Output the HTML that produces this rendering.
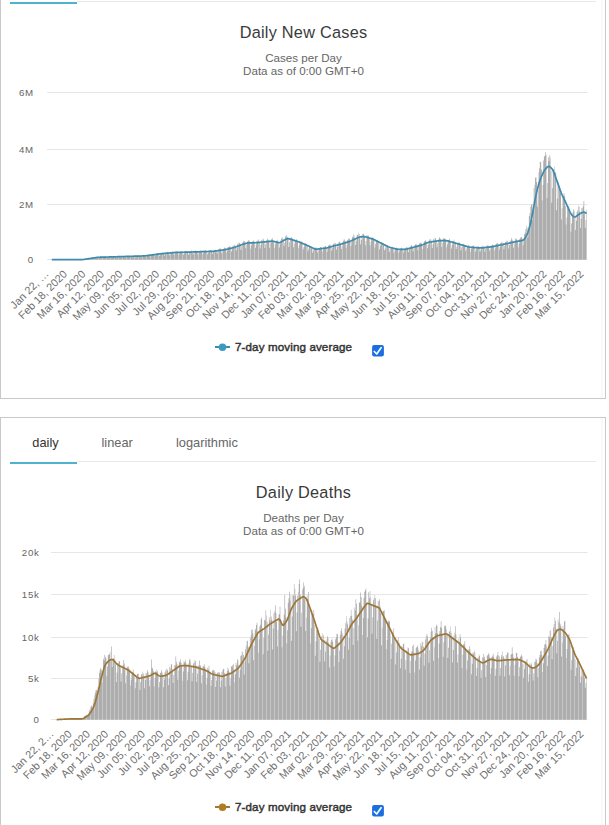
<!DOCTYPE html>
<html><head><meta charset="utf-8"><style>
html,body{margin:0;padding:0;background:#fff;width:609px;height:825px;overflow:hidden;position:relative}
text{font-family:"Liberation Sans",sans-serif}
</style></head><body>
<svg width="609" height="825" viewBox="0 0 609 825" style="position:absolute;left:0;top:0" font-family="Liberation Sans, sans-serif">
<defs><pattern id="stripes" x="0" y="0" width="4" height="20" patternUnits="userSpaceOnUse"><rect width="4" height="20" fill="#adadad"/><rect x="2" width="1" height="20" fill="#c6c6c6"/></pattern></defs>
<rect width="609" height="825" fill="#fff"/>
<rect x="0.5" y="-42.5" width="605" height="441.0" fill="#fff" stroke="#c9c9c9" stroke-width="1"/>
<rect x="0.5" y="417.5" width="605" height="483.0" fill="#fff" stroke="#c9c9c9" stroke-width="1"/>
<rect x="601" y="-43" width="2" height="441" fill="#f9f9f9"/>
<rect x="601" y="418" width="2" height="420" fill="#f9f9f9"/>
<rect x="77" y="1" width="519" height="1" fill="#e8e8e8"/>
<rect x="10" y="2" width="67" height="2" fill="#4fb3cf"/>
<text x="303.50" y="37.60" font-size="16.30" fill="#3a3a3a" text-anchor="middle" font-weight="normal" letter-spacing="0.25">Daily New Cases</text>
<text x="303.50" y="62.30" font-size="11.60" fill="#666" text-anchor="middle" font-weight="normal" >Cases per Day</text>
<text x="303.50" y="74.50" font-size="11.60" fill="#666" text-anchor="middle" font-weight="normal" >Data as of 0:00 GMT+0</text>
<rect x="47.0" y="92.0" width="540.5" height="1" fill="#e6e6e6"/>
<text x="33.80" y="95.60" font-size="9.70" fill="#666" text-anchor="end" font-weight="normal" letter-spacing="0.7">6M</text>
<rect x="47.0" y="149.0" width="540.5" height="1" fill="#e6e6e6"/>
<text x="33.80" y="152.60" font-size="9.70" fill="#666" text-anchor="end" font-weight="normal" letter-spacing="0.7">4M</text>
<rect x="47.0" y="204.0" width="540.5" height="1" fill="#e6e6e6"/>
<text x="33.80" y="207.60" font-size="9.70" fill="#666" text-anchor="end" font-weight="normal" letter-spacing="0.7">2M</text>
<rect x="47.0" y="259.0" width="540.5" height="1" fill="#e6e6e6"/>
<text x="33.80" y="262.60" font-size="9.70" fill="#666" text-anchor="end" font-weight="normal" letter-spacing="0.7">0</text>
<path d="M80.83 259.47h0.68V259.80h-0.68zM81.51 259.38h0.68V259.80h-0.68zM82.19 259.31h0.68V259.80h-0.68zM82.88 259.42h0.68V259.80h-0.68zM83.56 259.21h0.68V259.80h-0.68zM84.24 258.97h0.68V259.80h-0.68zM84.93 258.81h0.68V259.80h-0.68zM85.61 258.60h0.68V259.80h-0.68zM86.29 258.52h0.68V259.80h-0.68zM86.98 258.52h0.68V259.80h-0.68zM87.66 258.89h0.68V259.80h-0.68zM88.34 258.53h0.68V259.80h-0.68zM89.02 258.16h0.68V259.80h-0.68zM89.71 257.96h0.68V259.80h-0.68zM90.39 257.84h0.68V259.80h-0.68zM91.07 257.73h0.68V259.80h-0.68zM91.76 257.85h0.68V259.80h-0.68zM92.44 258.39h0.68V259.80h-0.68zM93.12 257.88h0.68V259.80h-0.68zM93.81 257.32h0.68V259.80h-0.68zM94.49 257.09h0.68V259.80h-0.68zM95.17 256.99h0.68V259.80h-0.68zM95.85 256.98h0.68V259.80h-0.68zM96.54 257.19h0.68V259.80h-0.68zM97.22 258.14h0.68V259.80h-0.68zM97.90 257.57h0.68V259.80h-0.68zM98.59 256.87h0.68V259.80h-0.68zM99.27 256.98h0.68V259.80h-0.68zM99.95 256.69h0.68V259.80h-0.68zM100.64 256.83h0.68V259.80h-0.68zM101.32 256.96h0.68V259.80h-0.68zM102.00 257.99h0.68V259.80h-0.68zM102.68 257.44h0.68V259.80h-0.68zM103.37 256.79h0.68V259.80h-0.68zM104.05 256.76h0.68V259.80h-0.68zM104.73 256.67h0.68V259.80h-0.68zM105.42 256.57h0.68V259.80h-0.68zM106.10 256.99h0.68V259.80h-0.68zM106.78 257.90h0.68V259.80h-0.68zM107.47 257.32h0.68V259.80h-0.68zM108.15 256.73h0.68V259.80h-0.68zM108.83 256.61h0.68V259.80h-0.68zM109.51 256.34h0.68V259.80h-0.68zM110.20 256.50h0.68V259.80h-0.68zM110.88 256.82h0.68V259.80h-0.68zM111.56 257.93h0.68V259.80h-0.68zM112.25 257.28h0.68V259.80h-0.68zM112.93 256.56h0.68V259.80h-0.68zM113.61 256.50h0.68V259.80h-0.68zM114.30 256.32h0.68V259.80h-0.68zM114.98 256.32h0.68V259.80h-0.68zM115.66 256.66h0.68V259.80h-0.68zM116.34 257.73h0.68V259.80h-0.68zM117.03 257.07h0.68V259.80h-0.68zM117.71 256.43h0.68V259.80h-0.68zM118.39 256.33h0.68V259.80h-0.68zM119.08 255.93h0.68V259.80h-0.68zM119.76 256.12h0.68V259.80h-0.68zM120.44 256.56h0.68V259.80h-0.68zM121.13 257.63h0.68V259.80h-0.68zM121.81 256.95h0.68V259.80h-0.68zM122.49 256.13h0.68V259.80h-0.68zM123.17 256.14h0.68V259.80h-0.68zM123.86 255.97h0.68V259.80h-0.68zM124.54 256.08h0.68V259.80h-0.68zM125.22 256.29h0.68V259.80h-0.68zM125.91 257.52h0.68V259.80h-0.68zM126.59 256.90h0.68V259.80h-0.68zM127.27 256.08h0.68V259.80h-0.68zM127.96 256.03h0.68V259.80h-0.68zM128.64 255.71h0.68V259.80h-0.68zM129.32 255.92h0.68V259.80h-0.68zM130.01 256.15h0.68V259.80h-0.68zM130.69 257.40h0.68V259.80h-0.68zM131.37 256.72h0.68V259.80h-0.68zM132.05 255.97h0.68V259.80h-0.68zM132.74 255.74h0.68V259.80h-0.68zM133.42 255.66h0.68V259.80h-0.68zM134.10 255.68h0.68V259.80h-0.68zM134.79 256.10h0.68V259.80h-0.68zM135.47 257.44h0.68V259.80h-0.68zM136.15 256.61h0.68V259.80h-0.68zM136.84 255.73h0.68V259.80h-0.68zM137.52 255.70h0.68V259.80h-0.68zM138.20 255.42h0.68V259.80h-0.68zM138.88 255.61h0.68V259.80h-0.68zM139.57 255.96h0.68V259.80h-0.68zM140.25 257.27h0.68V259.80h-0.68zM140.93 256.38h0.68V259.80h-0.68zM141.62 255.53h0.68V259.80h-0.68zM142.30 255.55h0.68V259.80h-0.68zM142.98 255.16h0.68V259.80h-0.68zM143.67 255.31h0.68V259.80h-0.68zM144.35 255.60h0.68V259.80h-0.68zM145.03 256.95h0.68V259.80h-0.68zM145.71 256.14h0.68V259.80h-0.68zM146.40 255.18h0.68V259.80h-0.68zM147.08 254.95h0.68V259.80h-0.68zM147.76 254.48h0.68V259.80h-0.68zM148.45 254.54h0.68V259.80h-0.68zM149.13 254.78h0.68V259.80h-0.68zM149.81 256.61h0.68V259.80h-0.68zM150.50 255.49h0.68V259.80h-0.68zM151.18 254.27h0.68V259.80h-0.68zM151.86 254.17h0.68V259.80h-0.68zM152.54 253.64h0.68V259.80h-0.68zM153.23 253.77h0.68V259.80h-0.68zM153.91 254.34h0.68V259.80h-0.68zM154.59 256.06h0.68V259.80h-0.68zM155.28 255.12h0.68V259.80h-0.68zM155.96 253.61h0.68V259.80h-0.68zM156.64 253.45h0.68V259.80h-0.68zM157.33 252.94h0.68V259.80h-0.68zM158.01 253.21h0.68V259.80h-0.68zM158.69 253.60h0.68V259.80h-0.68zM159.37 255.74h0.68V259.80h-0.68zM160.06 254.39h0.68V259.80h-0.68zM160.74 253.12h0.68V259.80h-0.68zM161.42 252.86h0.68V259.80h-0.68zM162.11 252.46h0.68V259.80h-0.68zM162.79 252.77h0.68V259.80h-0.68zM163.47 252.78h0.68V259.80h-0.68zM164.16 255.45h0.68V259.80h-0.68zM164.84 254.30h0.68V259.80h-0.68zM165.52 252.35h0.68V259.80h-0.68zM166.20 252.57h0.68V259.80h-0.68zM166.89 251.87h0.68V259.80h-0.68zM167.57 251.98h0.68V259.80h-0.68zM168.25 252.80h0.68V259.80h-0.68zM168.94 255.20h0.68V259.80h-0.68zM169.62 253.83h0.68V259.80h-0.68zM170.30 252.12h0.68V259.80h-0.68zM170.99 252.20h0.68V259.80h-0.68zM171.67 251.65h0.68V259.80h-0.68zM172.35 251.66h0.68V259.80h-0.68zM173.03 252.13h0.68V259.80h-0.68zM173.72 254.84h0.68V259.80h-0.68zM174.40 253.24h0.68V259.80h-0.68zM175.08 251.63h0.68V259.80h-0.68zM175.77 251.72h0.68V259.80h-0.68zM176.45 251.19h0.68V259.80h-0.68zM177.13 251.76h0.68V259.80h-0.68zM177.82 252.27h0.68V259.80h-0.68zM178.50 254.91h0.68V259.80h-0.68zM179.18 253.32h0.68V259.80h-0.68zM179.87 251.52h0.68V259.80h-0.68zM180.55 251.61h0.68V259.80h-0.68zM181.23 251.15h0.68V259.80h-0.68zM181.91 251.57h0.68V259.80h-0.68zM182.60 252.03h0.68V259.80h-0.68zM183.28 254.72h0.68V259.80h-0.68zM183.96 253.21h0.68V259.80h-0.68zM184.65 251.64h0.68V259.80h-0.68zM185.33 251.07h0.68V259.80h-0.68zM186.01 250.71h0.68V259.80h-0.68zM186.70 251.19h0.68V259.80h-0.68zM187.38 251.98h0.68V259.80h-0.68zM188.06 254.70h0.68V259.80h-0.68zM188.74 253.14h0.68V259.80h-0.68zM189.43 251.37h0.68V259.80h-0.68zM190.11 251.16h0.68V259.80h-0.68zM190.79 250.61h0.68V259.80h-0.68zM191.48 250.77h0.68V259.80h-0.68zM192.16 251.56h0.68V259.80h-0.68zM192.84 254.57h0.68V259.80h-0.68zM193.53 252.97h0.68V259.80h-0.68zM194.21 251.26h0.68V259.80h-0.68zM194.89 251.18h0.68V259.80h-0.68zM195.57 250.22h0.68V259.80h-0.68zM196.26 250.92h0.68V259.80h-0.68zM196.94 251.25h0.68V259.80h-0.68zM197.62 254.49h0.68V259.80h-0.68zM198.31 252.86h0.68V259.80h-0.68zM198.99 250.84h0.68V259.80h-0.68zM199.67 250.90h0.68V259.80h-0.68zM200.36 250.32h0.68V259.80h-0.68zM201.04 250.71h0.68V259.80h-0.68zM201.72 251.50h0.68V259.80h-0.68zM202.40 254.37h0.68V259.80h-0.68zM203.09 252.85h0.68V259.80h-0.68zM203.77 250.57h0.68V259.80h-0.68zM204.45 250.77h0.68V259.80h-0.68zM205.14 249.88h0.68V259.80h-0.68zM205.82 250.99h0.68V259.80h-0.68zM206.50 251.26h0.68V259.80h-0.68zM207.19 254.19h0.68V259.80h-0.68zM207.87 252.67h0.68V259.80h-0.68zM208.55 250.49h0.68V259.80h-0.68zM209.23 250.45h0.68V259.80h-0.68zM209.92 250.09h0.68V259.80h-0.68zM210.60 250.22h0.68V259.80h-0.68zM211.28 250.58h0.68V259.80h-0.68zM211.97 254.07h0.68V259.80h-0.68zM212.65 252.33h0.68V259.80h-0.68zM213.33 250.38h0.68V259.80h-0.68zM214.02 250.05h0.68V259.80h-0.68zM214.70 249.70h0.68V259.80h-0.68zM215.38 249.68h0.68V259.80h-0.68zM216.06 249.94h0.68V259.80h-0.68zM216.75 253.51h0.68V259.80h-0.68zM217.43 251.67h0.68V259.80h-0.68zM218.11 249.30h0.68V259.80h-0.68zM218.80 248.91h0.68V259.80h-0.68zM219.48 248.48h0.68V259.80h-0.68zM220.16 248.39h0.68V259.80h-0.68zM220.85 249.47h0.68V259.80h-0.68zM221.53 253.15h0.68V259.80h-0.68zM222.21 250.87h0.68V259.80h-0.68zM222.90 249.26h0.68V259.80h-0.68zM223.58 248.59h0.68V259.80h-0.68zM224.26 247.61h0.68V259.80h-0.68zM224.94 248.09h0.68V259.80h-0.68zM225.63 248.77h0.68V259.80h-0.68zM226.31 252.61h0.68V259.80h-0.68zM226.99 250.40h0.68V259.80h-0.68zM227.68 246.91h0.68V259.80h-0.68zM228.36 247.10h0.68V259.80h-0.68zM229.04 246.41h0.68V259.80h-0.68zM229.73 246.28h0.68V259.80h-0.68zM230.41 247.65h0.68V259.80h-0.68zM231.09 251.61h0.68V259.80h-0.68zM231.77 249.17h0.68V259.80h-0.68zM232.46 245.73h0.68V259.80h-0.68zM233.14 246.14h0.68V259.80h-0.68zM233.82 244.45h0.68V259.80h-0.68zM234.51 244.83h0.68V259.80h-0.68zM235.19 246.20h0.68V259.80h-0.68zM235.87 250.41h0.68V259.80h-0.68zM236.56 247.94h0.68V259.80h-0.68zM237.24 243.74h0.68V259.80h-0.68zM237.92 243.64h0.68V259.80h-0.68zM238.60 242.42h0.68V259.80h-0.68zM239.29 242.91h0.68V259.80h-0.68zM239.97 243.86h0.68V259.80h-0.68zM240.65 249.88h0.68V259.80h-0.68zM241.34 246.30h0.68V259.80h-0.68zM242.02 242.71h0.68V259.80h-0.68zM242.70 241.95h0.68V259.80h-0.68zM243.39 240.86h0.68V259.80h-0.68zM244.07 241.01h0.68V259.80h-0.68zM244.75 243.01h0.68V259.80h-0.68zM245.43 248.28h0.68V259.80h-0.68zM246.12 244.77h0.68V259.80h-0.68zM246.80 241.66h0.68V259.80h-0.68zM247.48 241.36h0.68V259.80h-0.68zM248.17 240.20h0.68V259.80h-0.68zM248.85 240.41h0.68V259.80h-0.68zM249.53 241.82h0.68V259.80h-0.68zM250.22 248.82h0.68V259.80h-0.68zM250.90 245.45h0.68V259.80h-0.68zM251.58 241.76h0.68V259.80h-0.68zM252.26 241.55h0.68V259.80h-0.68zM252.95 240.73h0.68V259.80h-0.68zM253.63 240.51h0.68V259.80h-0.68zM254.31 242.65h0.68V259.80h-0.68zM255.00 248.04h0.68V259.80h-0.68zM255.68 244.75h0.68V259.80h-0.68zM256.36 241.40h0.68V259.80h-0.68zM257.05 241.13h0.68V259.80h-0.68zM257.73 239.86h0.68V259.80h-0.68zM258.41 239.62h0.68V259.80h-0.68zM259.09 242.09h0.68V259.80h-0.68zM259.78 248.42h0.68V259.80h-0.68zM260.46 244.64h0.68V259.80h-0.68zM261.14 240.37h0.68V259.80h-0.68zM261.83 240.48h0.68V259.80h-0.68zM262.51 238.40h0.68V259.80h-0.68zM263.19 239.55h0.68V259.80h-0.68zM263.88 241.14h0.68V259.80h-0.68zM264.56 247.97h0.68V259.80h-0.68zM265.24 244.24h0.68V259.80h-0.68zM265.92 240.07h0.68V259.80h-0.68zM266.61 240.62h0.68V259.80h-0.68zM267.29 238.41h0.68V259.80h-0.68zM267.97 239.86h0.68V259.80h-0.68zM268.66 240.84h0.68V259.80h-0.68zM269.34 247.83h0.68V259.80h-0.68zM270.02 243.25h0.68V259.80h-0.68zM270.71 239.59h0.68V259.80h-0.68zM271.39 239.29h0.68V259.80h-0.68zM272.07 238.35h0.68V259.80h-0.68zM272.76 240.15h0.68V259.80h-0.68zM273.44 242.38h0.68V259.80h-0.68zM274.12 248.17h0.68V259.80h-0.68zM274.80 244.61h0.68V259.80h-0.68zM275.49 241.07h0.68V259.80h-0.68zM276.17 240.75h0.68V259.80h-0.68zM276.85 239.68h0.68V259.80h-0.68zM277.54 241.07h0.68V259.80h-0.68zM278.22 241.75h0.68V259.80h-0.68zM278.90 247.45h0.68V259.80h-0.68zM279.59 244.33h0.68V259.80h-0.68zM280.27 240.39h0.68V259.80h-0.68zM280.95 239.01h0.68V259.80h-0.68zM281.63 237.52h0.68V259.80h-0.68zM282.32 237.39h0.68V259.80h-0.68zM283.00 239.45h0.68V259.80h-0.68zM283.68 246.09h0.68V259.80h-0.68zM284.37 242.67h0.68V259.80h-0.68zM285.05 236.47h0.68V259.80h-0.68zM285.73 235.83h0.68V259.80h-0.68zM286.42 234.79h0.68V259.80h-0.68zM287.10 237.10h0.68V259.80h-0.68zM287.78 238.47h0.68V259.80h-0.68zM288.46 247.01h0.68V259.80h-0.68zM289.15 242.35h0.68V259.80h-0.68zM289.83 238.09h0.68V259.80h-0.68zM290.51 238.49h0.68V259.80h-0.68zM291.20 236.96h0.68V259.80h-0.68zM291.88 238.00h0.68V259.80h-0.68zM292.56 239.77h0.68V259.80h-0.68zM293.25 247.16h0.68V259.80h-0.68zM293.93 243.66h0.68V259.80h-0.68zM294.61 240.48h0.68V259.80h-0.68zM295.29 240.21h0.68V259.80h-0.68zM295.98 239.14h0.68V259.80h-0.68zM296.66 239.77h0.68V259.80h-0.68zM297.34 241.88h0.68V259.80h-0.68zM298.03 248.02h0.68V259.80h-0.68zM298.71 245.54h0.68V259.80h-0.68zM299.39 241.81h0.68V259.80h-0.68zM300.08 241.73h0.68V259.80h-0.68zM300.76 241.24h0.68V259.80h-0.68zM301.44 241.87h0.68V259.80h-0.68zM302.12 244.03h0.68V259.80h-0.68zM302.81 249.36h0.68V259.80h-0.68zM303.49 247.04h0.68V259.80h-0.68zM304.17 243.52h0.68V259.80h-0.68zM304.86 244.06h0.68V259.80h-0.68zM305.54 243.07h0.68V259.80h-0.68zM306.22 244.85h0.68V259.80h-0.68zM306.91 245.92h0.68V259.80h-0.68zM307.59 251.18h0.68V259.80h-0.68zM308.27 248.82h0.68V259.80h-0.68zM308.95 245.98h0.68V259.80h-0.68zM309.64 246.81h0.68V259.80h-0.68zM310.32 246.51h0.68V259.80h-0.68zM311.00 247.19h0.68V259.80h-0.68zM311.69 248.30h0.68V259.80h-0.68zM312.37 252.83h0.68V259.80h-0.68zM313.05 250.61h0.68V259.80h-0.68zM313.74 248.56h0.68V259.80h-0.68zM314.42 248.38h0.68V259.80h-0.68zM315.10 247.49h0.68V259.80h-0.68zM315.78 247.61h0.68V259.80h-0.68zM316.47 248.80h0.68V259.80h-0.68zM317.15 252.60h0.68V259.80h-0.68zM317.83 250.36h0.68V259.80h-0.68zM318.52 247.82h0.68V259.80h-0.68zM319.20 248.19h0.68V259.80h-0.68zM319.88 246.89h0.68V259.80h-0.68zM320.57 247.07h0.68V259.80h-0.68zM321.25 247.85h0.68V259.80h-0.68zM321.93 251.85h0.68V259.80h-0.68zM322.62 249.76h0.68V259.80h-0.68zM323.30 247.14h0.68V259.80h-0.68zM323.98 247.17h0.68V259.80h-0.68zM324.66 246.05h0.68V259.80h-0.68zM325.35 246.10h0.68V259.80h-0.68zM326.03 246.95h0.68V259.80h-0.68zM326.71 251.68h0.68V259.80h-0.68zM327.40 248.92h0.68V259.80h-0.68zM328.08 245.63h0.68V259.80h-0.68zM328.76 244.95h0.68V259.80h-0.68zM329.45 244.38h0.68V259.80h-0.68zM330.13 244.86h0.68V259.80h-0.68zM330.81 245.97h0.68V259.80h-0.68zM331.49 250.64h0.68V259.80h-0.68zM332.18 247.89h0.68V259.80h-0.68zM332.86 244.06h0.68V259.80h-0.68zM333.54 243.63h0.68V259.80h-0.68zM334.23 242.69h0.68V259.80h-0.68zM334.91 242.90h0.68V259.80h-0.68zM335.59 244.70h0.68V259.80h-0.68zM336.28 249.75h0.68V259.80h-0.68zM336.96 246.91h0.68V259.80h-0.68zM337.64 243.15h0.68V259.80h-0.68zM338.32 242.36h0.68V259.80h-0.68zM339.01 241.62h0.68V259.80h-0.68zM339.69 242.60h0.68V259.80h-0.68zM340.37 243.33h0.68V259.80h-0.68zM341.06 249.08h0.68V259.80h-0.68zM341.74 246.02h0.68V259.80h-0.68zM342.42 241.87h0.68V259.80h-0.68zM343.11 240.79h0.68V259.80h-0.68zM343.79 239.21h0.68V259.80h-0.68zM344.47 240.45h0.68V259.80h-0.68zM345.15 241.35h0.68V259.80h-0.68zM345.84 247.65h0.68V259.80h-0.68zM346.52 244.67h0.68V259.80h-0.68zM347.20 239.94h0.68V259.80h-0.68zM347.89 239.43h0.68V259.80h-0.68zM348.57 237.88h0.68V259.80h-0.68zM349.25 238.98h0.68V259.80h-0.68zM349.94 239.96h0.68V259.80h-0.68zM350.62 246.36h0.68V259.80h-0.68zM351.30 242.12h0.68V259.80h-0.68zM351.98 236.81h0.68V259.80h-0.68zM352.67 237.19h0.68V259.80h-0.68zM353.35 234.52h0.68V259.80h-0.68zM354.03 235.52h0.68V259.80h-0.68zM354.72 238.17h0.68V259.80h-0.68zM355.40 244.96h0.68V259.80h-0.68zM356.08 240.83h0.68V259.80h-0.68zM356.77 235.06h0.68V259.80h-0.68zM357.45 234.87h0.68V259.80h-0.68zM358.13 232.67h0.68V259.80h-0.68zM358.81 233.92h0.68V259.80h-0.68zM359.50 236.35h0.68V259.80h-0.68zM360.18 244.18h0.68V259.80h-0.68zM360.86 239.92h0.68V259.80h-0.68zM361.55 234.94h0.68V259.80h-0.68zM362.23 233.86h0.68V259.80h-0.68zM362.91 233.48h0.68V259.80h-0.68zM363.60 234.60h0.68V259.80h-0.68zM364.28 236.91h0.68V259.80h-0.68zM364.96 245.37h0.68V259.80h-0.68zM365.64 241.01h0.68V259.80h-0.68zM366.33 235.07h0.68V259.80h-0.68zM367.01 236.35h0.68V259.80h-0.68zM367.69 234.83h0.68V259.80h-0.68zM368.38 236.37h0.68V259.80h-0.68zM369.06 238.37h0.68V259.80h-0.68zM369.74 245.45h0.68V259.80h-0.68zM370.43 241.74h0.68V259.80h-0.68zM371.11 237.92h0.68V259.80h-0.68zM371.79 237.76h0.68V259.80h-0.68zM372.48 237.33h0.68V259.80h-0.68zM373.16 238.38h0.68V259.80h-0.68zM373.84 240.62h0.68V259.80h-0.68zM374.52 247.58h0.68V259.80h-0.68zM375.21 243.95h0.68V259.80h-0.68zM375.89 239.99h0.68V259.80h-0.68zM376.57 240.19h0.68V259.80h-0.68zM377.26 239.78h0.68V259.80h-0.68zM377.94 241.24h0.68V259.80h-0.68zM378.62 242.73h0.68V259.80h-0.68zM379.31 249.14h0.68V259.80h-0.68zM379.99 245.85h0.68V259.80h-0.68zM380.67 242.61h0.68V259.80h-0.68zM381.35 242.73h0.68V259.80h-0.68zM382.04 242.57h0.68V259.80h-0.68zM382.72 243.97h0.68V259.80h-0.68zM383.40 244.84h0.68V259.80h-0.68zM384.09 250.28h0.68V259.80h-0.68zM384.77 248.46h0.68V259.80h-0.68zM385.45 245.32h0.68V259.80h-0.68zM386.14 245.21h0.68V259.80h-0.68zM386.82 245.41h0.68V259.80h-0.68zM387.50 245.33h0.68V259.80h-0.68zM388.18 247.31h0.68V259.80h-0.68zM388.87 251.94h0.68V259.80h-0.68zM389.55 249.31h0.68V259.80h-0.68zM390.23 246.99h0.68V259.80h-0.68zM390.92 247.28h0.68V259.80h-0.68zM391.60 246.39h0.68V259.80h-0.68zM392.28 247.72h0.68V259.80h-0.68zM392.97 248.07h0.68V259.80h-0.68zM393.65 252.69h0.68V259.80h-0.68zM394.33 250.57h0.68V259.80h-0.68zM395.01 248.40h0.68V259.80h-0.68zM395.70 248.15h0.68V259.80h-0.68zM396.38 247.44h0.68V259.80h-0.68zM397.06 248.23h0.68V259.80h-0.68zM397.75 248.88h0.68V259.80h-0.68zM398.43 252.87h0.68V259.80h-0.68zM399.11 250.94h0.68V259.80h-0.68zM399.80 248.47h0.68V259.80h-0.68zM400.48 248.52h0.68V259.80h-0.68zM401.16 247.85h0.68V259.80h-0.68zM401.84 247.81h0.68V259.80h-0.68zM402.53 249.06h0.68V259.80h-0.68zM403.21 252.62h0.68V259.80h-0.68zM403.89 250.58h0.68V259.80h-0.68zM404.58 248.30h0.68V259.80h-0.68zM405.26 248.20h0.68V259.80h-0.68zM405.94 247.06h0.68V259.80h-0.68zM406.63 247.02h0.68V259.80h-0.68zM407.31 248.00h0.68V259.80h-0.68zM407.99 252.16h0.68V259.80h-0.68zM408.67 249.43h0.68V259.80h-0.68zM409.36 247.19h0.68V259.80h-0.68zM410.04 246.74h0.68V259.80h-0.68zM410.72 245.43h0.68V259.80h-0.68zM411.41 245.10h0.68V259.80h-0.68zM412.09 246.63h0.68V259.80h-0.68zM412.77 251.38h0.68V259.80h-0.68zM413.46 248.43h0.68V259.80h-0.68zM414.14 245.18h0.68V259.80h-0.68zM414.82 244.74h0.68V259.80h-0.68zM415.50 244.12h0.68V259.80h-0.68zM416.19 244.53h0.68V259.80h-0.68zM416.87 245.39h0.68V259.80h-0.68zM417.55 250.28h0.68V259.80h-0.68zM418.24 247.07h0.68V259.80h-0.68zM418.92 243.31h0.68V259.80h-0.68zM419.60 243.80h0.68V259.80h-0.68zM420.29 242.57h0.68V259.80h-0.68zM420.97 242.64h0.68V259.80h-0.68zM421.65 243.88h0.68V259.80h-0.68zM422.34 249.13h0.68V259.80h-0.68zM423.02 245.79h0.68V259.80h-0.68zM423.70 241.83h0.68V259.80h-0.68zM424.38 240.91h0.68V259.80h-0.68zM425.07 240.14h0.68V259.80h-0.68zM425.75 240.81h0.68V259.80h-0.68zM426.43 242.40h0.68V259.80h-0.68zM427.12 248.30h0.68V259.80h-0.68zM427.80 244.88h0.68V259.80h-0.68zM428.48 241.12h0.68V259.80h-0.68zM429.17 239.81h0.68V259.80h-0.68zM429.85 238.80h0.68V259.80h-0.68zM430.53 239.59h0.68V259.80h-0.68zM431.21 241.40h0.68V259.80h-0.68zM431.90 247.97h0.68V259.80h-0.68zM432.58 244.27h0.68V259.80h-0.68zM433.26 238.91h0.68V259.80h-0.68zM433.95 240.23h0.68V259.80h-0.68zM434.63 238.03h0.68V259.80h-0.68zM435.31 238.35h0.68V259.80h-0.68zM436.00 240.32h0.68V259.80h-0.68zM436.68 247.23h0.68V259.80h-0.68zM437.36 243.17h0.68V259.80h-0.68zM438.04 239.47h0.68V259.80h-0.68zM438.73 238.53h0.68V259.80h-0.68zM439.41 236.97h0.68V259.80h-0.68zM440.09 238.74h0.68V259.80h-0.68zM440.78 240.46h0.68V259.80h-0.68zM441.46 247.02h0.68V259.80h-0.68zM442.14 243.04h0.68V259.80h-0.68zM442.83 238.44h0.68V259.80h-0.68zM443.51 238.50h0.68V259.80h-0.68zM444.19 238.01h0.68V259.80h-0.68zM444.87 239.02h0.68V259.80h-0.68zM445.56 240.45h0.68V259.80h-0.68zM446.24 247.34h0.68V259.80h-0.68zM446.92 244.38h0.68V259.80h-0.68zM447.61 240.02h0.68V259.80h-0.68zM448.29 239.90h0.68V259.80h-0.68zM448.97 238.75h0.68V259.80h-0.68zM449.66 240.43h0.68V259.80h-0.68zM450.34 241.73h0.68V259.80h-0.68zM451.02 248.61h0.68V259.80h-0.68zM451.70 245.32h0.68V259.80h-0.68zM452.39 241.55h0.68V259.80h-0.68zM453.07 240.98h0.68V259.80h-0.68zM453.75 239.50h0.68V259.80h-0.68zM454.44 241.48h0.68V259.80h-0.68zM455.12 243.17h0.68V259.80h-0.68zM455.80 249.04h0.68V259.80h-0.68zM456.49 246.74h0.68V259.80h-0.68zM457.17 242.75h0.68V259.80h-0.68zM457.85 243.45h0.68V259.80h-0.68zM458.53 241.78h0.68V259.80h-0.68zM459.22 242.63h0.68V259.80h-0.68zM459.90 244.59h0.68V259.80h-0.68zM460.58 250.32h0.68V259.80h-0.68zM461.27 247.14h0.68V259.80h-0.68zM461.95 244.42h0.68V259.80h-0.68zM462.63 244.51h0.68V259.80h-0.68zM463.32 243.75h0.68V259.80h-0.68zM464.00 245.17h0.68V259.80h-0.68zM464.68 246.04h0.68V259.80h-0.68zM465.37 250.91h0.68V259.80h-0.68zM466.05 248.65h0.68V259.80h-0.68zM466.73 245.91h0.68V259.80h-0.68zM467.41 246.21h0.68V259.80h-0.68zM468.10 245.10h0.68V259.80h-0.68zM468.78 245.75h0.68V259.80h-0.68zM469.46 247.06h0.68V259.80h-0.68zM470.15 251.66h0.68V259.80h-0.68zM470.83 249.05h0.68V259.80h-0.68zM471.51 246.14h0.68V259.80h-0.68zM472.20 246.27h0.68V259.80h-0.68zM472.88 245.44h0.68V259.80h-0.68zM473.56 245.83h0.68V259.80h-0.68zM474.24 247.01h0.68V259.80h-0.68zM474.93 251.76h0.68V259.80h-0.68zM475.61 249.56h0.68V259.80h-0.68zM476.29 246.94h0.68V259.80h-0.68zM476.98 246.74h0.68V259.80h-0.68zM477.66 245.92h0.68V259.80h-0.68zM478.34 246.26h0.68V259.80h-0.68zM479.03 247.74h0.68V259.80h-0.68zM479.71 251.85h0.68V259.80h-0.68zM480.39 249.73h0.68V259.80h-0.68zM481.07 246.38h0.68V259.80h-0.68zM481.76 246.58h0.68V259.80h-0.68zM482.44 245.56h0.68V259.80h-0.68zM483.12 246.21h0.68V259.80h-0.68zM483.81 247.19h0.68V259.80h-0.68zM484.49 251.64h0.68V259.80h-0.68zM485.17 248.70h0.68V259.80h-0.68zM485.86 246.02h0.68V259.80h-0.68zM486.54 245.93h0.68V259.80h-0.68zM487.22 245.31h0.68V259.80h-0.68zM487.90 245.58h0.68V259.80h-0.68zM488.59 246.41h0.68V259.80h-0.68zM489.27 250.87h0.68V259.80h-0.68zM489.95 248.90h0.68V259.80h-0.68zM490.64 245.72h0.68V259.80h-0.68zM491.32 245.21h0.68V259.80h-0.68zM492.00 244.39h0.68V259.80h-0.68zM492.69 245.02h0.68V259.80h-0.68zM493.37 245.67h0.68V259.80h-0.68zM494.05 250.41h0.68V259.80h-0.68zM494.73 248.13h0.68V259.80h-0.68zM495.42 244.31h0.68V259.80h-0.68zM496.10 243.75h0.68V259.80h-0.68zM496.78 242.69h0.68V259.80h-0.68zM497.47 243.52h0.68V259.80h-0.68zM498.15 243.94h0.68V259.80h-0.68zM498.83 249.76h0.68V259.80h-0.68zM499.52 247.09h0.68V259.80h-0.68zM500.20 242.95h0.68V259.80h-0.68zM500.88 243.32h0.68V259.80h-0.68zM501.56 241.53h0.68V259.80h-0.68zM502.25 242.69h0.68V259.80h-0.68zM502.93 243.34h0.68V259.80h-0.68zM503.61 249.32h0.68V259.80h-0.68zM504.30 245.69h0.68V259.80h-0.68zM504.98 241.90h0.68V259.80h-0.68zM505.66 241.63h0.68V259.80h-0.68zM506.35 240.61h0.68V259.80h-0.68zM507.03 240.65h0.68V259.80h-0.68zM507.71 243.13h0.68V259.80h-0.68zM508.39 248.39h0.68V259.80h-0.68zM509.08 244.96h0.68V259.80h-0.68zM509.76 240.78h0.68V259.80h-0.68zM510.44 240.30h0.68V259.80h-0.68zM511.13 237.88h0.68V259.80h-0.68zM511.81 239.81h0.68V259.80h-0.68zM512.49 241.12h0.68V259.80h-0.68zM513.18 247.75h0.68V259.80h-0.68zM513.86 243.71h0.68V259.80h-0.68zM514.54 240.71h0.68V259.80h-0.68zM515.23 238.86h0.68V259.80h-0.68zM515.91 238.60h0.68V259.80h-0.68zM516.59 239.78h0.68V259.80h-0.68zM517.27 240.92h0.68V259.80h-0.68zM517.96 247.25h0.68V259.80h-0.68zM518.64 243.39h0.68V259.80h-0.68zM519.32 238.97h0.68V259.80h-0.68zM520.01 238.20h0.68V259.80h-0.68zM520.69 237.10h0.68V259.80h-0.68zM521.37 237.29h0.68V259.80h-0.68zM522.06 239.33h0.68V259.80h-0.68zM522.74 245.15h0.68V259.80h-0.68zM523.42 239.79h0.68V259.80h-0.68zM524.10 233.89h0.68V259.80h-0.68zM524.79 232.86h0.68V259.80h-0.68zM525.47 229.04h0.68V259.80h-0.68zM526.15 225.72h0.68V259.80h-0.68zM526.84 227.72h0.68V259.80h-0.68zM527.52 237.45h0.68V259.80h-0.68zM528.20 228.84h0.68V259.80h-0.68zM528.89 216.03h0.68V259.80h-0.68zM529.57 212.91h0.68V259.80h-0.68zM530.25 206.44h0.68V259.80h-0.68zM530.93 204.69h0.68V259.80h-0.68zM531.62 204.11h0.68V259.80h-0.68zM532.30 220.37h0.68V259.80h-0.68zM532.98 207.11h0.68V259.80h-0.68zM533.67 188.13h0.68V259.80h-0.68zM534.35 185.11h0.68V259.80h-0.68zM535.03 177.86h0.68V259.80h-0.68zM535.72 177.36h0.68V259.80h-0.68zM536.40 182.04h0.68V259.80h-0.68zM537.08 206.85h0.68V259.80h-0.68zM537.76 190.60h0.68V259.80h-0.68zM538.45 172.22h0.68V259.80h-0.68zM539.13 168.25h0.68V259.80h-0.68zM539.81 161.85h0.68V259.80h-0.68zM540.50 162.11h0.68V259.80h-0.68zM541.18 169.53h0.68V259.80h-0.68zM541.86 200.15h0.68V259.80h-0.68zM542.55 184.94h0.68V259.80h-0.68zM543.23 160.45h0.68V259.80h-0.68zM543.91 156.61h0.68V259.80h-0.68zM544.59 155.78h0.68V259.80h-0.68zM545.28 152.18h0.68V259.80h-0.68zM545.96 154.70h0.68V259.80h-0.68zM546.64 198.01h0.68V259.80h-0.68zM547.33 183.00h0.68V259.80h-0.68zM548.01 157.29h0.68V259.80h-0.68zM548.69 160.97h0.68V259.80h-0.68zM549.38 155.37h0.68V259.80h-0.68zM550.06 157.50h0.68V259.80h-0.68zM550.74 170.46h0.68V259.80h-0.68zM551.42 202.86h0.68V259.80h-0.68zM552.11 188.14h0.68V259.80h-0.68zM552.79 169.12h0.68V259.80h-0.68zM553.47 168.91h0.68V259.80h-0.68zM554.16 166.51h0.68V259.80h-0.68zM554.84 171.58h0.68V259.80h-0.68zM555.52 172.90h0.68V259.80h-0.68zM556.21 210.37h0.68V259.80h-0.68zM556.89 198.77h0.68V259.80h-0.68zM557.57 180.48h0.68V259.80h-0.68zM558.25 184.44h0.68V259.80h-0.68zM558.94 185.65h0.68V259.80h-0.68zM559.62 188.39h0.68V259.80h-0.68zM560.30 192.52h0.68V259.80h-0.68zM560.99 219.62h0.68V259.80h-0.68zM561.67 208.23h0.68V259.80h-0.68zM562.35 194.96h0.68V259.80h-0.68zM563.04 197.74h0.68V259.80h-0.68zM563.72 193.19h0.68V259.80h-0.68zM564.40 196.22h0.68V259.80h-0.68zM565.09 206.00h0.68V259.80h-0.68zM565.77 224.56h0.68V259.80h-0.68zM566.45 217.44h0.68V259.80h-0.68zM567.13 207.87h0.68V259.80h-0.68zM567.82 207.53h0.68V259.80h-0.68zM568.50 206.12h0.68V259.80h-0.68zM569.18 209.75h0.68V259.80h-0.68zM569.87 213.54h0.68V259.80h-0.68zM570.55 231.62h0.68V259.80h-0.68zM571.23 223.50h0.68V259.80h-0.68zM571.92 214.42h0.68V259.80h-0.68zM572.60 212.21h0.68V259.80h-0.68zM573.28 209.20h0.68V259.80h-0.68zM573.96 210.38h0.68V259.80h-0.68zM574.65 215.85h0.68V259.80h-0.68zM575.33 230.12h0.68V259.80h-0.68zM576.01 220.85h0.68V259.80h-0.68zM576.70 212.01h0.68V259.80h-0.68zM577.38 210.23h0.68V259.80h-0.68zM578.06 205.52h0.68V259.80h-0.68zM578.75 206.76h0.68V259.80h-0.68zM579.43 211.39h0.68V259.80h-0.68zM580.11 228.02h0.68V259.80h-0.68zM580.79 218.77h0.68V259.80h-0.68zM581.48 207.91h0.68V259.80h-0.68zM582.16 207.77h0.68V259.80h-0.68zM582.84 206.20h0.68V259.80h-0.68zM583.53 201.00h0.68V259.80h-0.68zM584.21 212.76h0.68V259.80h-0.68zM584.89 227.63h0.68V259.80h-0.68zM585.58 219.96h0.68V259.80h-0.68zM586.26 209.61h0.68V259.80h-0.68z" fill="url(#stripes)"/>
<polyline points="51.80,259.60 52.48,259.60 53.17,259.60 53.85,259.60 54.53,259.60 55.22,259.60 55.90,259.60 56.58,259.60 57.26,259.60 57.95,259.60 58.63,259.60 59.31,259.60 60.00,259.60 60.68,259.60 61.36,259.60 62.05,259.60 62.73,259.60 63.41,259.60 64.09,259.60 64.78,259.60 65.46,259.60 66.14,259.60 66.83,259.60 67.51,259.60 68.19,259.60 68.88,259.60 69.56,259.60 70.24,259.60 70.92,259.60 71.61,259.60 72.29,259.60 72.97,259.60 73.66,259.60 74.34,259.60 75.02,259.60 75.71,259.60 76.39,259.60 77.07,259.60 77.75,259.60 78.44,259.60 79.12,259.60 79.80,259.60 80.49,259.60 81.17,259.60 81.85,259.59 82.54,259.56 83.22,259.50 83.90,259.42 84.58,259.32 85.27,259.21 85.95,259.11 86.63,259.00 87.32,258.89 88.00,258.79 88.68,258.68 89.37,258.57 90.05,258.47 90.73,258.36 91.41,258.25 92.10,258.15 92.78,258.04 93.46,257.93 94.15,257.82 94.83,257.72 95.51,257.61 96.20,257.51 96.88,257.41 97.56,257.34 98.24,257.29 98.93,257.26 99.61,257.24 100.29,257.22 100.98,257.20 101.66,257.18 102.34,257.16 103.03,257.14 103.71,257.12 104.39,257.10 105.08,257.08 105.76,257.06 106.44,257.04 107.12,257.02 107.81,257.00 108.49,256.98 109.17,256.96 109.86,256.94 110.54,256.92 111.22,256.90 111.91,256.88 112.59,256.86 113.27,256.84 113.95,256.82 114.64,256.79 115.32,256.77 116.00,256.75 116.69,256.73 117.37,256.71 118.05,256.69 118.74,256.67 119.42,256.65 120.10,256.63 120.78,256.61 121.47,256.59 122.15,256.57 122.83,256.55 123.52,256.53 124.20,256.51 124.88,256.49 125.57,256.47 126.25,256.45 126.93,256.43 127.61,256.41 128.30,256.39 128.98,256.37 129.66,256.35 130.35,256.33 131.03,256.31 131.71,256.29 132.40,256.27 133.08,256.25 133.76,256.23 134.44,256.21 135.13,256.19 135.81,256.17 136.49,256.15 137.18,256.13 137.86,256.11 138.54,256.09 139.23,256.07 139.91,256.05 140.59,256.03 141.27,256.01 141.96,255.99 142.64,255.97 143.32,255.95 144.01,255.92 144.69,255.89 145.37,255.83 146.06,255.75 146.74,255.66 147.42,255.57 148.10,255.48 148.79,255.39 149.47,255.30 150.15,255.20 150.84,255.11 151.52,255.02 152.20,254.93 152.89,254.84 153.57,254.74 154.25,254.65 154.94,254.56 155.62,254.47 156.30,254.37 156.98,254.28 157.67,254.19 158.35,254.10 159.03,254.01 159.72,253.91 160.40,253.83 161.08,253.74 161.77,253.67 162.45,253.60 163.13,253.54 163.81,253.48 164.50,253.42 165.18,253.36 165.86,253.30 166.55,253.24 167.23,253.18 167.91,253.12 168.60,253.05 169.28,252.99 169.96,252.93 170.64,252.87 171.33,252.81 172.01,252.75 172.69,252.69 173.38,252.63 174.06,252.57 174.74,252.51 175.43,252.46 176.11,252.42 176.79,252.39 177.47,252.37 178.16,252.35 178.84,252.34 179.52,252.32 180.21,252.31 180.89,252.29 181.57,252.27 182.26,252.26 182.94,252.24 183.62,252.23 184.30,252.21 184.99,252.20 185.67,252.18 186.35,252.17 187.04,252.15 187.72,252.14 188.40,252.12 189.09,252.10 189.77,252.08 190.45,252.06 191.13,252.04 191.82,252.02 192.50,252.00 193.18,251.97 193.87,251.95 194.55,251.93 195.23,251.91 195.92,251.88 196.60,251.86 197.28,251.84 197.97,251.82 198.65,251.80 199.33,251.77 200.01,251.75 200.70,251.73 201.38,251.71 202.06,251.68 202.75,251.66 203.43,251.64 204.11,251.62 204.80,251.60 205.48,251.57 206.16,251.55 206.84,251.53 207.53,251.51 208.21,251.49 208.89,251.46 209.58,251.44 210.26,251.42 210.94,251.40 211.63,251.37 212.31,251.35 212.99,251.32 213.67,251.28 214.36,251.21 215.04,251.13 215.72,251.03 216.41,250.93 217.09,250.83 217.77,250.73 218.46,250.63 219.14,250.53 219.82,250.42 220.50,250.32 221.19,250.22 221.87,250.12 222.55,250.02 223.24,249.92 223.92,249.82 224.60,249.71 225.29,249.59 225.97,249.46 226.65,249.31 227.33,249.15 228.02,248.99 228.70,248.84 229.38,248.68 230.07,248.52 230.75,248.36 231.43,248.20 232.12,248.04 232.80,247.87 233.48,247.69 234.16,247.47 234.85,247.23 235.53,246.98 236.21,246.72 236.90,246.46 237.58,246.21 238.26,245.95 238.95,245.70 239.63,245.45 240.31,245.21 240.99,244.97 241.68,244.74 242.36,244.51 243.04,244.29 243.73,244.06 244.41,243.83 245.09,243.61 245.78,243.40 246.46,243.23 247.14,243.12 247.83,243.06 248.51,243.02 249.19,242.99 249.87,242.97 250.56,242.94 251.24,242.91 251.92,242.88 252.61,242.85 253.29,242.83 253.97,242.80 254.66,242.77 255.34,242.74 256.02,242.70 256.70,242.66 257.39,242.60 258.07,242.54 258.75,242.47 259.44,242.40 260.12,242.34 260.80,242.27 261.49,242.20 262.17,242.14 262.85,242.07 263.53,242.00 264.22,241.94 264.90,241.87 265.58,241.80 266.27,241.74 266.95,241.67 267.63,241.60 268.32,241.54 269.00,241.47 269.68,241.40 270.36,241.34 271.05,241.27 271.73,241.23 272.41,241.22 273.10,241.28 273.78,241.41 274.46,241.58 275.15,241.78 275.83,241.97 276.51,242.17 277.19,242.36 277.88,242.55 278.56,242.69 279.24,242.71 279.93,242.57 280.61,242.27 281.29,241.91 281.98,241.52 282.66,241.13 283.34,240.74 284.02,240.35 284.71,239.96 285.39,239.57 286.07,239.19 286.76,238.85 287.44,238.64 288.12,238.60 288.81,238.71 289.49,238.90 290.17,239.11 290.85,239.32 291.54,239.53 292.22,239.75 292.90,239.96 293.59,240.17 294.27,240.39 294.95,240.60 295.64,240.82 296.32,241.03 297.00,241.26 297.69,241.50 298.37,241.76 299.05,242.03 299.73,242.30 300.42,242.57 301.10,242.85 301.78,243.12 302.47,243.40 303.15,243.67 303.83,243.95 304.52,244.23 305.20,244.51 305.88,244.80 306.56,245.11 307.25,245.43 307.93,245.75 308.61,246.07 309.30,246.39 309.98,246.71 310.66,247.03 311.35,247.35 312.03,247.67 312.71,247.99 313.39,248.31 314.08,248.62 314.76,248.90 315.44,249.09 316.13,249.16 316.81,249.14 317.49,249.07 318.18,249.00 318.86,248.92 319.54,248.84 320.22,248.77 320.91,248.69 321.59,248.61 322.27,248.53 322.96,248.46 323.64,248.38 324.32,248.30 325.01,248.22 325.69,248.14 326.37,248.05 327.05,247.92 327.74,247.76 328.42,247.56 329.10,247.36 329.79,247.15 330.47,246.94 331.15,246.73 331.84,246.53 332.52,246.32 333.20,246.11 333.88,245.90 334.57,245.70 335.25,245.52 335.93,245.36 336.62,245.21 337.30,245.06 337.98,244.92 338.67,244.78 339.35,244.62 340.03,244.46 340.71,244.27 341.40,244.06 342.08,243.85 342.76,243.63 343.45,243.42 344.13,243.21 344.81,242.99 345.50,242.78 346.18,242.57 346.86,242.35 347.55,242.14 348.23,241.92 348.91,241.70 349.59,241.46 350.28,241.20 350.96,240.91 351.64,240.60 352.33,240.29 353.01,239.97 353.69,239.66 354.38,239.35 355.06,239.03 355.74,238.72 356.42,238.40 357.11,238.09 357.79,237.78 358.47,237.48 359.16,237.21 359.84,237.01 360.52,236.88 361.21,236.81 361.89,236.77 362.57,236.73 363.25,236.69 363.94,236.68 364.62,236.72 365.30,236.84 365.99,237.01 366.67,237.21 367.35,237.41 368.04,237.61 368.72,237.81 369.40,238.01 370.08,238.21 370.77,238.41 371.45,238.61 372.13,238.83 372.82,239.08 373.50,239.37 374.18,239.70 374.87,240.03 375.55,240.37 376.23,240.72 376.91,241.06 377.60,241.40 378.28,241.74 378.96,242.08 379.65,242.42 380.33,242.76 381.01,243.10 381.70,243.44 382.38,243.78 383.06,244.12 383.74,244.46 384.43,244.79 385.11,245.13 385.79,245.47 386.48,245.81 387.16,246.14 387.84,246.48 388.53,246.80 389.21,247.08 389.89,247.32 390.57,247.52 391.26,247.70 391.94,247.88 392.62,248.05 393.31,248.23 393.99,248.40 394.67,248.58 395.36,248.75 396.04,248.92 396.72,249.08 397.41,249.20 398.09,249.27 398.77,249.29 399.45,249.30 400.14,249.30 400.82,249.30 401.50,249.30 402.19,249.30 402.87,249.30 403.55,249.30 404.24,249.30 404.92,249.28 405.60,249.22 406.28,249.12 406.97,248.97 407.65,248.80 408.33,248.63 409.02,248.45 409.70,248.28 410.38,248.10 411.07,247.93 411.75,247.75 412.43,247.58 413.11,247.40 413.80,247.22 414.48,247.04 415.16,246.86 415.85,246.68 416.53,246.49 417.21,246.31 417.90,246.13 418.58,245.94 419.26,245.76 419.94,245.58 420.63,245.39 421.31,245.20 421.99,244.98 422.68,244.73 423.36,244.46 424.04,244.18 424.73,243.89 425.41,243.60 426.09,243.31 426.77,243.02 427.46,242.74 428.14,242.48 428.82,242.27 429.51,242.11 430.19,241.99 430.87,241.89 431.56,241.80 432.24,241.70 432.92,241.60 433.60,241.51 434.29,241.41 434.97,241.31 435.65,241.22 436.34,241.12 437.02,241.02 437.70,240.93 438.39,240.83 439.07,240.74 439.75,240.67 440.43,240.63 441.12,240.61 441.80,240.60 442.48,240.60 443.17,240.60 443.85,240.60 444.53,240.60 445.22,240.61 445.90,240.63 446.58,240.69 447.27,240.82 447.95,240.99 448.63,241.18 449.31,241.38 450.00,241.57 450.68,241.77 451.36,241.96 452.05,242.16 452.73,242.35 453.41,242.55 454.10,242.74 454.78,242.94 455.46,243.13 456.14,243.33 456.83,243.52 457.51,243.72 458.19,243.92 458.88,244.11 459.56,244.31 460.24,244.51 460.93,244.70 461.61,244.90 462.29,245.10 462.97,245.29 463.66,245.49 464.34,245.69 465.02,245.88 465.71,246.08 466.39,246.28 467.07,246.47 467.76,246.67 468.44,246.86 469.12,247.03 469.80,247.16 470.49,247.25 471.17,247.31 471.85,247.36 472.54,247.41 473.22,247.45 473.90,247.50 474.59,247.55 475.27,247.60 475.95,247.65 476.63,247.69 477.32,247.74 478.00,247.79 478.68,247.84 479.37,247.88 480.05,247.92 480.73,247.94 481.42,247.92 482.10,247.87 482.78,247.80 483.46,247.72 484.15,247.64 484.83,247.57 485.51,247.49 486.20,247.41 486.88,247.34 487.56,247.26 488.25,247.18 488.93,247.10 489.61,247.03 490.30,246.95 490.98,246.87 491.66,246.79 492.34,246.69 493.03,246.57 493.71,246.44 494.39,246.30 495.08,246.15 495.76,246.01 496.44,245.86 497.13,245.72 497.81,245.57 498.49,245.43 499.17,245.28 499.86,245.14 500.54,244.99 501.22,244.85 501.91,244.70 502.59,244.56 503.27,244.41 503.96,244.27 504.64,244.12 505.32,243.98 506.00,243.83 506.69,243.68 507.37,243.52 508.05,243.37 508.74,243.22 509.42,243.07 510.10,242.91 510.79,242.76 511.47,242.61 512.15,242.45 512.83,242.30 513.52,242.15 514.20,241.99 514.88,241.84 515.57,241.70 516.25,241.57 516.93,241.45 517.62,241.32 518.30,241.20 518.98,241.08 519.66,240.96 520.35,240.83 521.03,240.70 521.71,240.57 522.40,240.41 523.08,240.15 523.76,239.67 524.45,238.91 525.13,237.95 525.81,236.88 526.49,235.70 527.18,234.26 527.86,232.46 528.54,230.36 529.23,228.09 529.91,225.69 530.59,223.03 531.28,219.97 531.96,216.51 532.64,212.83 533.32,209.06 534.01,205.29 534.69,201.59 535.37,198.06 536.06,194.83 536.74,191.89 537.42,189.12 538.11,186.45 538.79,183.92 539.47,181.66 540.16,179.74 540.84,178.06 541.52,176.49 542.20,174.94 542.89,173.41 543.57,171.97 544.25,170.71 544.94,169.69 545.62,168.84 546.30,168.06 546.99,167.32 547.67,166.69 548.35,166.33 549.03,166.36 549.72,166.72 550.40,167.24 551.08,167.84 551.77,168.53 552.45,169.45 553.13,170.72 553.82,172.33 554.50,174.11 555.18,175.96 555.86,177.84 556.55,179.74 557.23,181.67 557.91,183.61 558.60,185.56 559.28,187.51 559.96,189.44 560.65,191.31 561.33,193.05 562.01,194.64 562.69,196.13 563.38,197.58 564.06,199.02 564.74,200.46 565.43,201.91 566.11,203.38 566.79,204.87 567.48,206.38 568.16,207.90 568.84,209.42 569.52,210.92 570.21,212.34 570.89,213.58 571.57,214.57 572.26,215.37 572.94,216.07 573.62,216.66 574.31,217.02 574.99,217.02 575.67,216.72 576.35,216.26 577.04,215.74 577.72,215.22 578.40,214.71 579.09,214.24 579.77,213.82 580.45,213.45 581.14,213.10 581.82,212.77 582.50,212.45 583.18,212.18 583.87,212.07 584.55,212.22 585.23,212.61 585.92,213.10 586.60,213.49" fill="none" stroke="#3f8bac" stroke-width="1.7" stroke-linejoin="round" stroke-linecap="butt"/>
<text x="49.40" y="274.70" font-size="10.8" fill="#6e6e6e" text-anchor="end" transform="rotate(-45 49.40 274.70)">Jan 22, …</text>
<text x="67.84" y="274.70" font-size="10.8" fill="#6e6e6e" text-anchor="end" transform="rotate(-45 67.84 274.70)">Feb 18, 2020</text>
<text x="86.28" y="274.70" font-size="10.8" fill="#6e6e6e" text-anchor="end" transform="rotate(-45 86.28 274.70)">Mar 16, 2020</text>
<text x="104.72" y="274.70" font-size="10.8" fill="#6e6e6e" text-anchor="end" transform="rotate(-45 104.72 274.70)">Apr 12, 2020</text>
<text x="123.17" y="274.70" font-size="10.8" fill="#6e6e6e" text-anchor="end" transform="rotate(-45 123.17 274.70)">May 09, 2020</text>
<text x="141.61" y="274.70" font-size="10.8" fill="#6e6e6e" text-anchor="end" transform="rotate(-45 141.61 274.70)">Jun 05, 2020</text>
<text x="160.05" y="274.70" font-size="10.8" fill="#6e6e6e" text-anchor="end" transform="rotate(-45 160.05 274.70)">Jul 02, 2020</text>
<text x="178.49" y="274.70" font-size="10.8" fill="#6e6e6e" text-anchor="end" transform="rotate(-45 178.49 274.70)">Jul 29, 2020</text>
<text x="196.93" y="274.70" font-size="10.8" fill="#6e6e6e" text-anchor="end" transform="rotate(-45 196.93 274.70)">Aug 25, 2020</text>
<text x="215.37" y="274.70" font-size="10.8" fill="#6e6e6e" text-anchor="end" transform="rotate(-45 215.37 274.70)">Sep 21, 2020</text>
<text x="233.81" y="274.70" font-size="10.8" fill="#6e6e6e" text-anchor="end" transform="rotate(-45 233.81 274.70)">Oct 18, 2020</text>
<text x="252.26" y="274.70" font-size="10.8" fill="#6e6e6e" text-anchor="end" transform="rotate(-45 252.26 274.70)">Nov 14, 2020</text>
<text x="270.70" y="274.70" font-size="10.8" fill="#6e6e6e" text-anchor="end" transform="rotate(-45 270.70 274.70)">Dec 11, 2020</text>
<text x="289.14" y="274.70" font-size="10.8" fill="#6e6e6e" text-anchor="end" transform="rotate(-45 289.14 274.70)">Jan 07, 2021</text>
<text x="307.58" y="274.70" font-size="10.8" fill="#6e6e6e" text-anchor="end" transform="rotate(-45 307.58 274.70)">Feb 03, 2021</text>
<text x="326.02" y="274.70" font-size="10.8" fill="#6e6e6e" text-anchor="end" transform="rotate(-45 326.02 274.70)">Mar 02, 2021</text>
<text x="344.46" y="274.70" font-size="10.8" fill="#6e6e6e" text-anchor="end" transform="rotate(-45 344.46 274.70)">Mar 29, 2021</text>
<text x="362.90" y="274.70" font-size="10.8" fill="#6e6e6e" text-anchor="end" transform="rotate(-45 362.90 274.70)">Apr 25, 2021</text>
<text x="381.34" y="274.70" font-size="10.8" fill="#6e6e6e" text-anchor="end" transform="rotate(-45 381.34 274.70)">May 22, 2021</text>
<text x="399.79" y="274.70" font-size="10.8" fill="#6e6e6e" text-anchor="end" transform="rotate(-45 399.79 274.70)">Jun 18, 2021</text>
<text x="418.23" y="274.70" font-size="10.8" fill="#6e6e6e" text-anchor="end" transform="rotate(-45 418.23 274.70)">Jul 15, 2021</text>
<text x="436.67" y="274.70" font-size="10.8" fill="#6e6e6e" text-anchor="end" transform="rotate(-45 436.67 274.70)">Aug 11, 2021</text>
<text x="455.11" y="274.70" font-size="10.8" fill="#6e6e6e" text-anchor="end" transform="rotate(-45 455.11 274.70)">Sep 07, 2021</text>
<text x="473.55" y="274.70" font-size="10.8" fill="#6e6e6e" text-anchor="end" transform="rotate(-45 473.55 274.70)">Oct 04, 2021</text>
<text x="491.99" y="274.70" font-size="10.8" fill="#6e6e6e" text-anchor="end" transform="rotate(-45 491.99 274.70)">Oct 31, 2021</text>
<text x="510.43" y="274.70" font-size="10.8" fill="#6e6e6e" text-anchor="end" transform="rotate(-45 510.43 274.70)">Nov 27, 2021</text>
<text x="528.88" y="274.70" font-size="10.8" fill="#6e6e6e" text-anchor="end" transform="rotate(-45 528.88 274.70)">Dec 24, 2021</text>
<text x="547.32" y="274.70" font-size="10.8" fill="#6e6e6e" text-anchor="end" transform="rotate(-45 547.32 274.70)">Jan 20, 2022</text>
<text x="565.76" y="274.70" font-size="10.8" fill="#6e6e6e" text-anchor="end" transform="rotate(-45 565.76 274.70)">Feb 16, 2022</text>
<text x="584.20" y="274.70" font-size="10.8" fill="#6e6e6e" text-anchor="end" transform="rotate(-45 584.20 274.70)">Mar 15, 2022</text>
<rect x="215" y="346.0" width="15" height="2" fill="#3f8bac"/>
<circle cx="222.5" cy="347.2" r="3.8" fill="#3a9ac4"/>
<text x="235.00" y="351.00" font-size="11.60" fill="#333" text-anchor="start" font-weight="normal" stroke="#333" stroke-width="0.45" letter-spacing="0.12">7-day moving average</text>
<rect x="372.1" y="345.1" width="11.8" height="11.4" rx="2" fill="#1c6ee0"/>
<path d="M374.3 351.5 L376.7 354.0 L381.1 347.7" fill="none" stroke="#f4ffff" stroke-width="1.7" stroke-linecap="round" stroke-linejoin="round"/>
<text x="45.50" y="447.00" font-size="12.80" fill="#333" text-anchor="middle" font-weight="normal" >daily</text>
<text x="117.20" y="447.00" font-size="12.80" fill="#666" text-anchor="middle" font-weight="normal" >linear</text>
<text x="206.90" y="447.00" font-size="12.80" fill="#666" text-anchor="middle" font-weight="normal" >logarithmic</text>
<rect x="77" y="461" width="519" height="1" fill="#e8e8e8"/>
<rect x="10" y="462" width="67" height="2" fill="#4fb3cf"/>
<text x="303.50" y="497.60" font-size="16.30" fill="#3a3a3a" text-anchor="middle" font-weight="normal" letter-spacing="0.25">Daily Deaths</text>
<text x="303.50" y="522.30" font-size="11.60" fill="#666" text-anchor="middle" font-weight="normal" >Deaths per Day</text>
<text x="303.50" y="534.50" font-size="11.60" fill="#666" text-anchor="middle" font-weight="normal" >Data as of 0:00 GMT+0</text>
<rect x="51.0" y="552.0" width="536.5" height="1" fill="#e6e6e6"/>
<text x="39.60" y="555.60" font-size="9.70" fill="#666" text-anchor="end" font-weight="normal" letter-spacing="0.7">20k</text>
<rect x="51.0" y="594.0" width="536.5" height="1" fill="#e6e6e6"/>
<text x="39.60" y="597.60" font-size="9.70" fill="#666" text-anchor="end" font-weight="normal" letter-spacing="0.7">15k</text>
<rect x="51.0" y="637.0" width="536.5" height="1" fill="#e6e6e6"/>
<text x="39.60" y="640.60" font-size="9.70" fill="#666" text-anchor="end" font-weight="normal" letter-spacing="0.7">10k</text>
<rect x="51.0" y="678.0" width="536.5" height="1" fill="#e6e6e6"/>
<text x="39.60" y="681.60" font-size="9.70" fill="#666" text-anchor="end" font-weight="normal" letter-spacing="0.7">5k</text>
<rect x="51.0" y="719.0" width="536.5" height="1" fill="#e6e6e6"/>
<text x="39.60" y="722.60" font-size="9.70" fill="#666" text-anchor="end" font-weight="normal" letter-spacing="0.7">0</text>
<path d="M56.36 719.46h0.68V719.80h-0.68zM57.04 719.41h0.68V719.80h-0.68zM57.72 719.38h0.68V719.80h-0.68zM58.39 719.39h0.68V719.80h-0.68zM59.07 719.47h0.68V719.80h-0.68zM59.75 719.37h0.68V719.80h-0.68zM60.42 719.24h0.68V719.80h-0.68zM61.10 719.20h0.68V719.80h-0.68zM61.78 719.13h0.68V719.80h-0.68zM62.45 719.11h0.68V719.80h-0.68zM63.13 719.13h0.68V719.80h-0.68zM63.81 719.27h0.68V719.80h-0.68zM64.48 719.13h0.68V719.80h-0.68zM65.16 718.94h0.68V719.80h-0.68zM65.84 718.92h0.68V719.80h-0.68zM66.51 718.85h0.68V719.80h-0.68zM67.19 718.85h0.68V719.80h-0.68zM67.87 718.92h0.68V719.80h-0.68zM68.54 719.13h0.68V719.80h-0.68zM69.22 719.02h0.68V719.80h-0.68zM69.90 718.86h0.68V719.80h-0.68zM70.57 718.84h0.68V719.80h-0.68zM71.25 718.76h0.68V719.80h-0.68zM71.93 718.81h0.68V719.80h-0.68zM72.60 718.90h0.68V719.80h-0.68zM73.28 719.15h0.68V719.80h-0.68zM73.96 718.99h0.68V719.80h-0.68zM74.63 718.84h0.68V719.80h-0.68zM75.31 718.85h0.68V719.80h-0.68zM75.99 718.79h0.68V719.80h-0.68zM76.66 718.80h0.68V719.80h-0.68zM77.34 718.85h0.68V719.80h-0.68zM78.02 719.16h0.68V719.80h-0.68zM78.69 719.01h0.68V719.80h-0.68zM79.37 718.82h0.68V719.80h-0.68zM80.05 718.75h0.68V719.80h-0.68zM80.72 718.44h0.68V719.80h-0.68zM81.40 718.13h0.68V719.80h-0.68zM82.08 717.76h0.68V719.80h-0.68zM82.76 718.06h0.68V719.80h-0.68zM83.43 717.39h0.68V719.80h-0.68zM84.11 716.30h0.68V719.80h-0.68zM84.79 715.88h0.68V719.80h-0.68zM85.46 715.34h0.68V719.80h-0.68zM86.14 714.80h0.68V719.80h-0.68zM86.82 714.49h0.68V719.80h-0.68zM87.49 715.36h0.68V719.80h-0.68zM88.17 713.38h0.68V719.80h-0.68zM88.85 711.20h0.68V719.80h-0.68zM89.52 709.44h0.68V719.80h-0.68zM90.20 707.26h0.68V719.80h-0.68zM90.88 706.15h0.68V719.80h-0.68zM91.55 705.46h0.68V719.80h-0.68zM92.23 708.11h0.68V719.80h-0.68zM92.91 703.62h0.68V719.80h-0.68zM93.58 698.86h0.68V719.80h-0.68zM94.26 695.16h0.68V719.80h-0.68zM94.94 692.77h0.68V719.80h-0.68zM95.61 689.99h0.68V719.80h-0.68zM96.29 690.13h0.68V719.80h-0.68zM96.97 694.95h0.68V719.80h-0.68zM97.64 686.93h0.68V719.80h-0.68zM98.32 678.26h0.68V719.80h-0.68zM99.00 673.02h0.68V719.80h-0.68zM99.67 670.28h0.68V719.80h-0.68zM100.35 667.97h0.68V719.80h-0.68zM101.03 669.13h0.68V719.80h-0.68zM101.70 682.59h0.68V719.80h-0.68zM102.38 671.79h0.68V719.80h-0.68zM103.06 658.68h0.68V719.80h-0.68zM103.73 660.59h0.68V719.80h-0.68zM104.41 654.66h0.68V719.80h-0.68zM105.09 656.87h0.68V719.80h-0.68zM105.76 658.29h0.68V719.80h-0.68zM106.44 676.16h0.68V719.80h-0.68zM107.12 666.47h0.68V719.80h-0.68zM107.80 655.22h0.68V719.80h-0.68zM108.47 654.79h0.68V719.80h-0.68zM109.15 653.89h0.68V719.80h-0.68zM109.83 651.86h0.68V719.80h-0.68zM110.50 660.26h0.68V719.80h-0.68zM111.18 646.60h0.68V719.80h-0.68zM111.86 667.09h0.68V719.80h-0.68zM112.53 658.99h0.68V719.80h-0.68zM113.21 658.06h0.68V719.80h-0.68zM113.89 654.89h0.68V719.80h-0.68zM114.56 658.77h0.68V719.80h-0.68zM115.24 664.56h0.68V719.80h-0.68zM115.92 681.97h0.68V719.80h-0.68zM116.59 672.57h0.68V719.80h-0.68zM117.27 662.88h0.68V719.80h-0.68zM117.95 662.66h0.68V719.80h-0.68zM118.62 661.05h0.68V719.80h-0.68zM119.30 661.36h0.68V719.80h-0.68zM119.98 666.79h0.68V719.80h-0.68zM120.65 681.50h0.68V719.80h-0.68zM121.33 673.15h0.68V719.80h-0.68zM122.01 665.70h0.68V719.80h-0.68zM122.68 664.96h0.68V719.80h-0.68zM123.36 660.10h0.68V719.80h-0.68zM124.04 663.43h0.68V719.80h-0.68zM124.71 669.91h0.68V719.80h-0.68zM125.39 683.23h0.68V719.80h-0.68zM126.07 675.44h0.68V719.80h-0.68zM126.74 666.18h0.68V719.80h-0.68zM127.42 667.39h0.68V719.80h-0.68zM128.10 666.43h0.68V719.80h-0.68zM128.77 668.59h0.68V719.80h-0.68zM129.45 671.39h0.68V719.80h-0.68zM130.13 685.57h0.68V719.80h-0.68zM130.80 679.66h0.68V719.80h-0.68zM131.48 671.76h0.68V719.80h-0.68zM132.16 672.15h0.68V719.80h-0.68zM132.84 669.54h0.68V719.80h-0.68zM133.51 672.79h0.68V719.80h-0.68zM134.19 675.58h0.68V719.80h-0.68zM134.87 688.13h0.68V719.80h-0.68zM135.54 682.27h0.68V719.80h-0.68zM136.22 676.16h0.68V719.80h-0.68zM136.90 673.96h0.68V719.80h-0.68zM137.57 673.76h0.68V719.80h-0.68zM138.25 673.77h0.68V719.80h-0.68zM138.93 677.80h0.68V719.80h-0.68zM139.60 690.04h0.68V719.80h-0.68zM140.28 682.26h0.68V719.80h-0.68zM140.96 674.38h0.68V719.80h-0.68zM141.63 674.13h0.68V719.80h-0.68zM142.31 671.58h0.68V719.80h-0.68zM142.99 673.49h0.68V719.80h-0.68zM143.66 676.61h0.68V719.80h-0.68zM144.34 688.21h0.68V719.80h-0.68zM145.02 679.92h0.68V719.80h-0.68zM145.69 672.63h0.68V719.80h-0.68zM146.37 673.27h0.68V719.80h-0.68zM147.05 669.92h0.68V719.80h-0.68zM147.72 671.90h0.68V719.80h-0.68zM148.40 674.87h0.68V719.80h-0.68zM149.08 686.28h0.68V719.80h-0.68zM149.75 680.09h0.68V719.80h-0.68zM150.43 672.68h0.68V719.80h-0.68zM151.11 659.40h0.68V719.80h-0.68zM151.78 667.55h0.68V719.80h-0.68zM152.46 668.71h0.68V719.80h-0.68zM153.14 671.36h0.68V719.80h-0.68zM153.81 686.51h0.68V719.80h-0.68zM154.49 678.86h0.68V719.80h-0.68zM155.17 671.35h0.68V719.80h-0.68zM155.84 672.00h0.68V719.80h-0.68zM156.52 669.42h0.68V719.80h-0.68zM157.20 671.42h0.68V719.80h-0.68zM157.88 676.18h0.68V719.80h-0.68zM158.55 687.16h0.68V719.80h-0.68zM159.23 682.09h0.68V719.80h-0.68zM159.91 673.10h0.68V719.80h-0.68zM160.58 672.60h0.68V719.80h-0.68zM161.26 669.96h0.68V719.80h-0.68zM161.94 672.20h0.68V719.80h-0.68zM162.61 674.74h0.68V719.80h-0.68zM163.29 687.30h0.68V719.80h-0.68zM163.97 679.45h0.68V719.80h-0.68zM164.64 672.59h0.68V719.80h-0.68zM165.32 670.87h0.68V719.80h-0.68zM166.00 668.54h0.68V719.80h-0.68zM166.67 670.38h0.68V719.80h-0.68zM167.35 669.55h0.68V719.80h-0.68zM168.03 685.15h0.68V719.80h-0.68zM168.70 678.75h0.68V719.80h-0.68zM169.38 666.93h0.68V719.80h-0.68zM170.06 668.53h0.68V719.80h-0.68zM170.73 664.16h0.68V719.80h-0.68zM171.41 664.51h0.68V719.80h-0.68zM172.09 669.40h0.68V719.80h-0.68zM172.76 682.98h0.68V719.80h-0.68zM173.44 675.02h0.68V719.80h-0.68zM174.12 664.92h0.68V719.80h-0.68zM174.79 665.56h0.68V719.80h-0.68zM175.47 656.40h0.68V719.80h-0.68zM176.15 661.86h0.68V719.80h-0.68zM176.82 664.18h0.68V719.80h-0.68zM177.50 679.85h0.68V719.80h-0.68zM178.18 670.38h0.68V719.80h-0.68zM178.85 661.42h0.68V719.80h-0.68zM179.53 662.25h0.68V719.80h-0.68zM180.21 659.19h0.68V719.80h-0.68zM180.88 662.94h0.68V719.80h-0.68zM181.56 665.67h0.68V719.80h-0.68zM182.24 680.83h0.68V719.80h-0.68zM182.92 671.49h0.68V719.80h-0.68zM183.59 661.22h0.68V719.80h-0.68zM184.27 662.16h0.68V719.80h-0.68zM184.95 659.74h0.68V719.80h-0.68zM185.62 662.51h0.68V719.80h-0.68zM186.30 665.03h0.68V719.80h-0.68zM186.98 680.13h0.68V719.80h-0.68zM187.65 671.83h0.68V719.80h-0.68zM188.33 663.58h0.68V719.80h-0.68zM189.01 660.00h0.68V719.80h-0.68zM189.68 658.44h0.68V719.80h-0.68zM190.36 661.63h0.68V719.80h-0.68zM191.04 666.24h0.68V719.80h-0.68zM191.71 681.14h0.68V719.80h-0.68zM192.39 672.79h0.68V719.80h-0.68zM193.07 663.54h0.68V719.80h-0.68zM193.74 662.64h0.68V719.80h-0.68zM194.42 660.00h0.68V719.80h-0.68zM195.10 661.07h0.68V719.80h-0.68zM195.77 665.62h0.68V719.80h-0.68zM196.45 681.90h0.68V719.80h-0.68zM197.13 673.80h0.68V719.80h-0.68zM197.80 665.52h0.68V719.80h-0.68zM198.48 665.50h0.68V719.80h-0.68zM199.16 660.50h0.68V719.80h-0.68zM199.83 664.89h0.68V719.80h-0.68zM200.51 666.42h0.68V719.80h-0.68zM201.19 683.24h0.68V719.80h-0.68zM201.86 675.34h0.68V719.80h-0.68zM202.54 665.66h0.68V719.80h-0.68zM203.22 666.61h0.68V719.80h-0.68zM203.89 664.21h0.68V719.80h-0.68zM204.57 666.69h0.68V719.80h-0.68zM205.25 671.00h0.68V719.80h-0.68zM205.92 684.71h0.68V719.80h-0.68zM206.60 678.20h0.68V719.80h-0.68zM207.28 667.84h0.68V719.80h-0.68zM207.95 669.62h0.68V719.80h-0.68zM208.63 665.86h0.68V719.80h-0.68zM209.31 672.09h0.68V719.80h-0.68zM209.99 673.18h0.68V719.80h-0.68zM210.66 686.03h0.68V719.80h-0.68zM211.34 679.90h0.68V719.80h-0.68zM212.02 670.61h0.68V719.80h-0.68zM212.69 670.79h0.68V719.80h-0.68zM213.37 669.72h0.68V719.80h-0.68zM214.05 670.47h0.68V719.80h-0.68zM214.72 671.91h0.68V719.80h-0.68zM215.40 687.09h0.68V719.80h-0.68zM216.08 680.42h0.68V719.80h-0.68zM216.75 673.26h0.68V719.80h-0.68zM217.43 672.48h0.68V719.80h-0.68zM218.11 671.96h0.68V719.80h-0.68zM218.78 672.27h0.68V719.80h-0.68zM219.46 673.28h0.68V719.80h-0.68zM220.14 687.15h0.68V719.80h-0.68zM220.81 680.58h0.68V719.80h-0.68zM221.49 671.92h0.68V719.80h-0.68zM222.17 670.48h0.68V719.80h-0.68zM222.84 669.30h0.68V719.80h-0.68zM223.52 668.85h0.68V719.80h-0.68zM224.20 673.04h0.68V719.80h-0.68zM224.87 686.52h0.68V719.80h-0.68zM225.55 678.16h0.68V719.80h-0.68zM226.23 673.37h0.68V719.80h-0.68zM226.90 670.93h0.68V719.80h-0.68zM227.58 667.62h0.68V719.80h-0.68zM228.26 669.86h0.68V719.80h-0.68zM228.93 672.33h0.68V719.80h-0.68zM229.61 685.70h0.68V719.80h-0.68zM230.29 678.30h0.68V719.80h-0.68zM230.96 665.91h0.68V719.80h-0.68zM231.64 667.05h0.68V719.80h-0.68zM232.32 664.90h0.68V719.80h-0.68zM232.99 664.26h0.68V719.80h-0.68zM233.67 669.17h0.68V719.80h-0.68zM234.35 682.13h0.68V719.80h-0.68zM235.03 674.34h0.68V719.80h-0.68zM235.70 663.07h0.68V719.80h-0.68zM236.38 665.21h0.68V719.80h-0.68zM237.06 659.27h0.68V719.80h-0.68zM237.73 660.50h0.68V719.80h-0.68zM238.41 665.02h0.68V719.80h-0.68zM239.09 677.78h0.68V719.80h-0.68zM239.76 670.12h0.68V719.80h-0.68zM240.44 655.84h0.68V719.80h-0.68zM241.12 655.53h0.68V719.80h-0.68zM241.79 651.25h0.68V719.80h-0.68zM242.47 652.57h0.68V719.80h-0.68zM243.15 654.90h0.68V719.80h-0.68zM243.82 674.62h0.68V719.80h-0.68zM244.50 661.76h0.68V719.80h-0.68zM245.18 649.34h0.68V719.80h-0.68zM245.85 645.78h0.68V719.80h-0.68zM246.53 641.33h0.68V719.80h-0.68zM247.21 640.65h0.68V719.80h-0.68zM247.88 646.76h0.68V719.80h-0.68zM248.56 663.21h0.68V719.80h-0.68zM249.24 649.57h0.68V719.80h-0.68zM249.91 637.95h0.68V719.80h-0.68zM250.59 635.58h0.68V719.80h-0.68zM251.27 629.97h0.68V719.80h-0.68zM251.94 629.20h0.68V719.80h-0.68zM252.62 633.18h0.68V719.80h-0.68zM253.30 660.28h0.68V719.80h-0.68zM253.97 646.05h0.68V719.80h-0.68zM254.65 630.62h0.68V719.80h-0.68zM255.33 628.83h0.68V719.80h-0.68zM256.00 624.94h0.68V719.80h-0.68zM256.68 622.84h0.68V719.80h-0.68zM257.36 631.81h0.68V719.80h-0.68zM258.03 652.64h0.68V719.80h-0.68zM258.71 639.29h0.68V719.80h-0.68zM259.39 626.13h0.68V719.80h-0.68zM260.07 624.86h0.68V719.80h-0.68zM260.74 619.35h0.68V719.80h-0.68zM261.42 617.42h0.68V719.80h-0.68zM262.10 628.24h0.68V719.80h-0.68zM262.77 654.35h0.68V719.80h-0.68zM263.45 637.97h0.68V719.80h-0.68zM264.13 619.87h0.68V719.80h-0.68zM264.80 620.44h0.68V719.80h-0.68zM265.48 610.62h0.68V719.80h-0.68zM266.16 615.62h0.68V719.80h-0.68zM266.83 621.89h0.68V719.80h-0.68zM267.51 650.76h0.68V719.80h-0.68zM268.19 634.69h0.68V719.80h-0.68zM268.86 617.15h0.68V719.80h-0.68zM269.54 620.22h0.68V719.80h-0.68zM270.22 609.80h0.68V719.80h-0.68zM270.89 616.61h0.68V719.80h-0.68zM271.57 619.85h0.68V719.80h-0.68zM272.25 649.60h0.68V719.80h-0.68zM272.92 628.60h0.68V719.80h-0.68zM273.60 613.17h0.68V719.80h-0.68zM274.28 610.64h0.68V719.80h-0.68zM274.95 605.25h0.68V719.80h-0.68zM275.63 612.69h0.68V719.80h-0.68zM276.31 621.90h0.68V719.80h-0.68zM276.98 646.56h0.68V719.80h-0.68zM277.66 629.95h0.68V719.80h-0.68zM278.34 614.77h0.68V719.80h-0.68zM279.01 614.04h0.68V719.80h-0.68zM279.69 606.80h0.68V719.80h-0.68zM280.37 619.31h0.68V719.80h-0.68zM281.04 622.86h0.68V719.80h-0.68zM281.72 647.16h0.68V719.80h-0.68zM282.40 635.59h0.68V719.80h-0.68zM283.07 620.40h0.68V719.80h-0.68zM283.75 614.66h0.68V719.80h-0.68zM284.43 595.00h0.68V719.80h-0.68zM285.11 608.78h0.68V719.80h-0.68zM285.78 617.60h0.68V719.80h-0.68zM286.46 643.36h0.68V719.80h-0.68zM287.14 630.13h0.68V719.80h-0.68zM287.81 602.83h0.68V719.80h-0.68zM288.49 598.13h0.68V719.80h-0.68zM289.17 591.74h0.68V719.80h-0.68zM289.84 600.47h0.68V719.80h-0.68zM290.52 595.00h0.68V719.80h-0.68zM291.20 640.64h0.68V719.80h-0.68zM291.87 616.61h0.68V719.80h-0.68zM292.55 595.29h0.68V719.80h-0.68zM293.23 595.51h0.68V719.80h-0.68zM293.90 583.80h0.68V719.80h-0.68zM294.58 588.87h0.68V719.80h-0.68zM295.26 595.50h0.68V719.80h-0.68zM295.93 631.36h0.68V719.80h-0.68zM296.61 612.41h0.68V719.80h-0.68zM297.29 595.68h0.68V719.80h-0.68zM297.96 592.06h0.68V719.80h-0.68zM298.64 584.06h0.68V719.80h-0.68zM299.32 579.50h0.68V719.80h-0.68zM299.99 594.70h0.68V719.80h-0.68zM300.67 626.82h0.68V719.80h-0.68zM301.35 612.78h0.68V719.80h-0.68zM302.02 589.64h0.68V719.80h-0.68zM302.70 587.67h0.68V719.80h-0.68zM303.38 582.50h0.68V719.80h-0.68zM304.05 586.34h0.68V719.80h-0.68zM304.73 599.51h0.68V719.80h-0.68zM305.41 630.88h0.68V719.80h-0.68zM306.08 617.67h0.68V719.80h-0.68zM306.76 595.32h0.68V719.80h-0.68zM307.44 599.01h0.68V719.80h-0.68zM308.11 591.99h0.68V719.80h-0.68zM308.79 604.20h0.68V719.80h-0.68zM309.47 609.93h0.68V719.80h-0.68zM310.15 643.56h0.68V719.80h-0.68zM310.82 628.31h0.68V719.80h-0.68zM311.50 609.77h0.68V719.80h-0.68zM312.18 616.00h0.68V719.80h-0.68zM312.85 614.05h0.68V719.80h-0.68zM313.53 610.00h0.68V719.80h-0.68zM314.21 624.97h0.68V719.80h-0.68zM314.88 655.84h0.68V719.80h-0.68zM315.56 641.22h0.68V719.80h-0.68zM316.24 629.92h0.68V719.80h-0.68zM316.91 630.92h0.68V719.80h-0.68zM317.59 627.51h0.68V719.80h-0.68zM318.27 630.05h0.68V719.80h-0.68zM318.94 638.91h0.68V719.80h-0.68zM319.62 661.85h0.68V719.80h-0.68zM320.30 649.69h0.68V719.80h-0.68zM320.97 636.33h0.68V719.80h-0.68zM321.65 640.17h0.68V719.80h-0.68zM322.33 633.27h0.68V719.80h-0.68zM323.00 635.14h0.68V719.80h-0.68zM323.68 639.95h0.68V719.80h-0.68zM324.36 661.60h0.68V719.80h-0.68zM325.03 651.86h0.68V719.80h-0.68zM325.71 639.50h0.68V719.80h-0.68zM326.39 641.00h0.68V719.80h-0.68zM327.06 636.32h0.68V719.80h-0.68zM327.74 637.88h0.68V719.80h-0.68zM328.42 643.36h0.68V719.80h-0.68zM329.09 667.40h0.68V719.80h-0.68zM329.77 655.55h0.68V719.80h-0.68zM330.45 642.00h0.68V719.80h-0.68zM331.12 639.92h0.68V719.80h-0.68zM331.80 638.85h0.68V719.80h-0.68zM332.48 641.73h0.68V719.80h-0.68zM333.15 646.83h0.68V719.80h-0.68zM333.83 666.46h0.68V719.80h-0.68zM334.51 655.28h0.68V719.80h-0.68zM335.19 639.16h0.68V719.80h-0.68zM335.86 637.40h0.68V719.80h-0.68zM336.54 633.65h0.68V719.80h-0.68zM337.22 634.35h0.68V719.80h-0.68zM337.89 642.10h0.68V719.80h-0.68zM338.57 662.27h0.68V719.80h-0.68zM339.25 650.61h0.68V719.80h-0.68zM339.92 634.79h0.68V719.80h-0.68zM340.60 630.96h0.68V719.80h-0.68zM341.28 628.24h0.68V719.80h-0.68zM341.95 632.84h0.68V719.80h-0.68zM342.63 635.19h0.68V719.80h-0.68zM343.31 658.70h0.68V719.80h-0.68zM343.98 646.34h0.68V719.80h-0.68zM344.66 628.83h0.68V719.80h-0.68zM345.34 623.36h0.68V719.80h-0.68zM346.01 616.14h0.68V719.80h-0.68zM346.69 621.54h0.68V719.80h-0.68zM347.37 624.21h0.68V719.80h-0.68zM348.04 649.72h0.68V719.80h-0.68zM348.72 638.00h0.68V719.80h-0.68zM349.40 617.90h0.68V719.80h-0.68zM350.07 615.99h0.68V719.80h-0.68zM350.75 609.99h0.68V719.80h-0.68zM351.43 615.68h0.68V719.80h-0.68zM352.10 619.60h0.68V719.80h-0.68zM352.78 644.97h0.68V719.80h-0.68zM353.46 628.36h0.68V719.80h-0.68zM354.13 607.53h0.68V719.80h-0.68zM354.81 610.25h0.68V719.80h-0.68zM355.49 599.16h0.68V719.80h-0.68zM356.16 603.82h0.68V719.80h-0.68zM356.84 615.17h0.68V719.80h-0.68zM357.52 640.39h0.68V719.80h-0.68zM358.19 625.16h0.68V719.80h-0.68zM358.87 602.80h0.68V719.80h-0.68zM359.55 602.15h0.68V719.80h-0.68zM360.23 592.62h0.68V719.80h-0.68zM360.90 597.10h0.68V719.80h-0.68zM361.58 605.87h0.68V719.80h-0.68zM362.26 634.96h0.68V719.80h-0.68zM362.93 617.97h0.68V719.80h-0.68zM363.61 597.92h0.68V719.80h-0.68zM364.29 591.86h0.68V719.80h-0.68zM364.96 590.17h0.68V719.80h-0.68zM365.64 588.50h0.68V719.80h-0.68zM366.32 602.69h0.68V719.80h-0.68zM366.99 637.22h0.68V719.80h-0.68zM367.67 618.50h0.68V719.80h-0.68zM368.35 592.24h0.68V719.80h-0.68zM369.02 598.29h0.68V719.80h-0.68zM369.70 590.88h0.68V719.80h-0.68zM370.38 597.26h0.68V719.80h-0.68zM371.05 604.87h0.68V719.80h-0.68zM371.73 633.64h0.68V719.80h-0.68zM372.41 617.27h0.68V719.80h-0.68zM373.08 600.30h0.68V719.80h-0.68zM373.76 597.99h0.68V719.80h-0.68zM374.44 595.01h0.68V719.80h-0.68zM375.11 598.34h0.68V719.80h-0.68zM375.79 607.36h0.68V719.80h-0.68zM376.47 639.08h0.68V719.80h-0.68zM377.14 620.56h0.68V719.80h-0.68zM377.82 600.80h0.68V719.80h-0.68zM378.50 601.36h0.68V719.80h-0.68zM379.17 599.25h0.68V719.80h-0.68zM379.85 606.56h0.68V719.80h-0.68zM380.53 613.01h0.68V719.80h-0.68zM381.20 645.18h0.68V719.80h-0.68zM381.88 627.64h0.68V719.80h-0.68zM382.56 611.02h0.68V719.80h-0.68zM383.23 611.09h0.68V719.80h-0.68zM383.91 610.22h0.68V719.80h-0.68zM384.59 617.55h0.68V719.80h-0.68zM385.27 620.55h0.68V719.80h-0.68zM385.94 648.93h0.68V719.80h-0.68zM386.62 639.93h0.68V719.80h-0.68zM387.30 621.89h0.68V719.80h-0.68zM387.97 620.44h0.68V719.80h-0.68zM388.65 622.15h0.68V719.80h-0.68zM389.33 620.64h0.68V719.80h-0.68zM390.00 632.68h0.68V719.80h-0.68zM390.68 658.94h0.68V719.80h-0.68zM391.36 643.86h0.68V719.80h-0.68zM392.03 631.64h0.68V719.80h-0.68zM392.71 633.78h0.68V719.80h-0.68zM393.39 628.47h0.68V719.80h-0.68zM394.06 636.91h0.68V719.80h-0.68zM394.74 637.76h0.68V719.80h-0.68zM395.42 664.50h0.68V719.80h-0.68zM396.09 652.53h0.68V719.80h-0.68zM396.77 641.08h0.68V719.80h-0.68zM397.45 640.18h0.68V719.80h-0.68zM398.12 637.01h0.68V719.80h-0.68zM398.80 642.67h0.68V719.80h-0.68zM399.48 646.31h0.68V719.80h-0.68zM400.15 668.37h0.68V719.80h-0.68zM400.83 658.64h0.68V719.80h-0.68zM401.51 646.01h0.68V719.80h-0.68zM402.18 647.03h0.68V719.80h-0.68zM402.86 644.02h0.68V719.80h-0.68zM403.54 643.87h0.68V719.80h-0.68zM404.21 651.15h0.68V719.80h-0.68zM404.89 669.43h0.68V719.80h-0.68zM405.57 660.28h0.68V719.80h-0.68zM406.24 650.73h0.68V719.80h-0.68zM406.92 651.83h0.68V719.80h-0.68zM407.60 647.49h0.68V719.80h-0.68zM408.27 648.25h0.68V719.80h-0.68zM408.95 653.63h0.68V719.80h-0.68zM409.63 672.89h0.68V719.80h-0.68zM410.31 660.95h0.68V719.80h-0.68zM410.98 652.65h0.68V719.80h-0.68zM411.66 651.23h0.68V719.80h-0.68zM412.34 646.02h0.68V719.80h-0.68zM413.01 644.78h0.68V719.80h-0.68zM413.69 652.23h0.68V719.80h-0.68zM414.37 672.40h0.68V719.80h-0.68zM415.04 660.60h0.68V719.80h-0.68zM415.72 648.23h0.68V719.80h-0.68zM416.40 646.98h0.68V719.80h-0.68zM417.07 645.43h0.68V719.80h-0.68zM417.75 647.48h0.68V719.80h-0.68zM418.43 650.83h0.68V719.80h-0.68zM419.10 669.52h0.68V719.80h-0.68zM419.78 657.30h0.68V719.80h-0.68zM420.46 643.33h0.68V719.80h-0.68zM421.13 646.21h0.68V719.80h-0.68zM421.81 641.80h0.68V719.80h-0.68zM422.49 642.10h0.68V719.80h-0.68zM423.16 646.77h0.68V719.80h-0.68zM423.84 665.68h0.68V719.80h-0.68zM424.52 653.57h0.68V719.80h-0.68zM425.19 639.36h0.68V719.80h-0.68zM425.87 635.78h0.68V719.80h-0.68zM426.55 633.53h0.68V719.80h-0.68zM427.22 636.21h0.68V719.80h-0.68zM427.90 641.99h0.68V719.80h-0.68zM428.58 662.65h0.68V719.80h-0.68zM429.25 650.34h0.68V719.80h-0.68zM429.93 637.10h0.68V719.80h-0.68zM430.61 631.39h0.68V719.80h-0.68zM431.28 627.79h0.68V719.80h-0.68zM431.96 630.67h0.68V719.80h-0.68zM432.64 637.14h0.68V719.80h-0.68zM433.31 660.75h0.68V719.80h-0.68zM433.99 647.16h0.68V719.80h-0.68zM434.67 627.04h0.68V719.80h-0.68zM435.35 633.27h0.68V719.80h-0.68zM436.02 624.80h0.68V719.80h-0.68zM436.70 625.93h0.68V719.80h-0.68zM437.38 633.34h0.68V719.80h-0.68zM438.05 657.97h0.68V719.80h-0.68zM438.73 643.41h0.68V719.80h-0.68zM439.41 631.08h0.68V719.80h-0.68zM440.08 627.09h0.68V719.80h-0.68zM440.76 621.15h0.68V719.80h-0.68zM441.44 628.12h0.68V719.80h-0.68zM442.11 633.95h0.68V719.80h-0.68zM442.79 656.66h0.68V719.80h-0.68zM443.47 642.23h0.68V719.80h-0.68zM444.14 625.87h0.68V719.80h-0.68zM444.82 626.55h0.68V719.80h-0.68zM445.50 625.50h0.68V719.80h-0.68zM446.17 629.25h0.68V719.80h-0.68zM446.85 633.70h0.68V719.80h-0.68zM447.53 657.96h0.68V719.80h-0.68zM448.20 647.81h0.68V719.80h-0.68zM448.88 631.63h0.68V719.80h-0.68zM449.56 630.90h0.68V719.80h-0.68zM450.23 626.24h0.68V719.80h-0.68zM450.91 632.80h0.68V719.80h-0.68zM451.59 636.80h0.68V719.80h-0.68zM452.26 662.42h0.68V719.80h-0.68zM452.94 649.93h0.68V719.80h-0.68zM453.62 635.65h0.68V719.80h-0.68zM454.29 632.75h0.68V719.80h-0.68zM454.97 626.35h0.68V719.80h-0.68zM455.65 634.52h0.68V719.80h-0.68zM456.32 640.59h0.68V719.80h-0.68zM457.00 662.58h0.68V719.80h-0.68zM457.68 654.46h0.68V719.80h-0.68zM458.35 638.41h0.68V719.80h-0.68zM459.03 641.63h0.68V719.80h-0.68zM459.71 634.16h0.68V719.80h-0.68zM460.38 637.39h0.68V719.80h-0.68zM461.06 645.21h0.68V719.80h-0.68zM461.74 667.95h0.68V719.80h-0.68zM462.42 654.69h0.68V719.80h-0.68zM463.09 644.29h0.68V719.80h-0.68zM463.77 644.57h0.68V719.80h-0.68zM464.45 641.28h0.68V719.80h-0.68zM465.12 647.43h0.68V719.80h-0.68zM465.80 650.13h0.68V719.80h-0.68zM466.48 669.52h0.68V719.80h-0.68zM467.15 660.44h0.68V719.80h-0.68zM467.83 649.27h0.68V719.80h-0.68zM468.51 650.85h0.68V719.80h-0.68zM469.18 646.16h0.68V719.80h-0.68zM469.86 649.32h0.68V719.80h-0.68zM470.54 655.09h0.68V719.80h-0.68zM471.21 674.16h0.68V719.80h-0.68zM471.89 663.68h0.68V719.80h-0.68zM472.57 652.38h0.68V719.80h-0.68zM473.24 653.54h0.68V719.80h-0.68zM473.92 650.51h0.68V719.80h-0.68zM474.60 652.22h0.68V719.80h-0.68zM475.27 657.05h0.68V719.80h-0.68zM475.95 676.11h0.68V719.80h-0.68zM476.63 667.89h0.68V719.80h-0.68zM477.30 658.01h0.68V719.80h-0.68zM477.98 657.38h0.68V719.80h-0.68zM478.66 654.38h0.68V719.80h-0.68zM479.33 655.95h0.68V719.80h-0.68zM480.01 662.19h0.68V719.80h-0.68zM480.69 677.82h0.68V719.80h-0.68zM481.36 670.12h0.68V719.80h-0.68zM482.04 656.91h0.68V719.80h-0.68zM482.72 658.05h0.68V719.80h-0.68zM483.39 653.96h0.68V719.80h-0.68zM484.07 656.64h0.68V719.80h-0.68zM484.75 660.18h0.68V719.80h-0.68zM485.42 676.95h0.68V719.80h-0.68zM486.10 665.25h0.68V719.80h-0.68zM486.78 655.50h0.68V719.80h-0.68zM487.46 655.28h0.68V719.80h-0.68zM488.13 653.25h0.68V719.80h-0.68zM488.81 654.42h0.68V719.80h-0.68zM489.49 657.57h0.68V719.80h-0.68zM490.16 674.11h0.68V719.80h-0.68zM490.84 668.09h0.68V719.80h-0.68zM491.52 657.08h0.68V719.80h-0.68zM492.19 655.76h0.68V719.80h-0.68zM492.87 653.73h0.68V719.80h-0.68zM493.55 656.93h0.68V719.80h-0.68zM494.22 659.41h0.68V719.80h-0.68zM494.90 675.74h0.68V719.80h-0.68zM495.58 669.09h0.68V719.80h-0.68zM496.25 656.48h0.68V719.80h-0.68zM496.93 654.90h0.68V719.80h-0.68zM497.61 651.94h0.68V719.80h-0.68zM498.28 655.41h0.68V719.80h-0.68zM498.96 656.52h0.68V719.80h-0.68zM499.64 675.70h0.68V719.80h-0.68zM500.31 667.95h0.68V719.80h-0.68zM500.99 655.04h0.68V719.80h-0.68zM501.67 657.10h0.68V719.80h-0.68zM502.34 651.56h0.68V719.80h-0.68zM503.02 656.04h0.68V719.80h-0.68zM503.70 657.91h0.68V719.80h-0.68zM504.37 676.38h0.68V719.80h-0.68zM505.05 665.53h0.68V719.80h-0.68zM505.73 654.93h0.68V719.80h-0.68zM506.40 654.70h0.68V719.80h-0.68zM507.08 652.31h0.68V719.80h-0.68zM507.76 652.64h0.68V719.80h-0.68zM508.43 660.81h0.68V719.80h-0.68zM509.11 675.32h0.68V719.80h-0.68zM509.79 666.10h0.68V719.80h-0.68zM510.46 654.93h0.68V719.80h-0.68zM511.14 653.98h0.68V719.80h-0.68zM511.82 647.15h0.68V719.80h-0.68zM512.50 653.69h0.68V719.80h-0.68zM513.17 657.40h0.68V719.80h-0.68zM513.85 675.41h0.68V719.80h-0.68zM514.53 664.68h0.68V719.80h-0.68zM515.20 658.06h0.68V719.80h-0.68zM515.88 652.72h0.68V719.80h-0.68zM516.56 653.12h0.68V719.80h-0.68zM517.23 657.12h0.68V719.80h-0.68zM517.91 660.30h0.68V719.80h-0.68zM518.59 676.37h0.68V719.80h-0.68zM519.26 667.26h0.68V719.80h-0.68zM519.94 657.19h0.68V719.80h-0.68zM520.62 655.88h0.68V719.80h-0.68zM521.29 654.53h0.68V719.80h-0.68zM521.97 656.59h0.68V719.80h-0.68zM522.65 663.82h0.68V719.80h-0.68zM523.32 677.63h0.68V719.80h-0.68zM524.00 668.91h0.68V719.80h-0.68zM524.68 660.95h0.68V719.80h-0.68zM525.35 662.86h0.68V719.80h-0.68zM526.03 660.42h0.68V719.80h-0.68zM526.71 659.08h0.68V719.80h-0.68zM527.38 666.36h0.68V719.80h-0.68zM528.06 681.67h0.68V719.80h-0.68zM528.74 674.18h0.68V719.80h-0.68zM529.41 663.43h0.68V719.80h-0.68zM530.09 664.52h0.68V719.80h-0.68zM530.77 662.53h0.68V719.80h-0.68zM531.44 664.71h0.68V719.80h-0.68zM532.12 666.89h0.68V719.80h-0.68zM532.80 680.60h0.68V719.80h-0.68zM533.47 673.18h0.68V719.80h-0.68zM534.15 662.04h0.68V719.80h-0.68zM534.83 661.84h0.68V719.80h-0.68zM535.50 658.72h0.68V719.80h-0.68zM536.18 659.49h0.68V719.80h-0.68zM536.86 662.95h0.68V719.80h-0.68zM537.54 677.27h0.68V719.80h-0.68zM538.21 668.02h0.68V719.80h-0.68zM538.89 657.61h0.68V719.80h-0.68zM539.57 654.96h0.68V719.80h-0.68zM540.24 651.11h0.68V719.80h-0.68zM540.92 650.85h0.68V719.80h-0.68zM541.60 654.87h0.68V719.80h-0.68zM542.27 671.96h0.68V719.80h-0.68zM542.95 663.24h0.68V719.80h-0.68zM543.63 647.88h0.68V719.80h-0.68zM544.30 644.60h0.68V719.80h-0.68zM544.98 644.00h0.68V719.80h-0.68zM545.66 639.92h0.68V719.80h-0.68zM546.33 645.85h0.68V719.80h-0.68zM547.01 665.95h0.68V719.80h-0.68zM547.69 655.55h0.68V719.80h-0.68zM548.36 636.13h0.68V719.80h-0.68zM549.04 637.16h0.68V719.80h-0.68zM549.72 631.03h0.68V719.80h-0.68zM550.39 629.82h0.68V719.80h-0.68zM551.07 637.27h0.68V719.80h-0.68zM551.75 659.31h0.68V719.80h-0.68zM552.42 645.85h0.68V719.80h-0.68zM553.10 627.46h0.68V719.80h-0.68zM553.78 623.99h0.68V719.80h-0.68zM554.45 617.40h0.68V719.80h-0.68zM555.13 620.87h0.68V719.80h-0.68zM555.81 628.71h0.68V719.80h-0.68zM556.48 653.34h0.68V719.80h-0.68zM557.16 640.71h0.68V719.80h-0.68zM557.84 619.31h0.68V719.80h-0.68zM558.51 622.07h0.68V719.80h-0.68zM559.19 612.10h0.68V719.80h-0.68zM559.87 623.75h0.68V719.80h-0.68zM560.54 626.11h0.68V719.80h-0.68zM561.22 656.60h0.68V719.80h-0.68zM561.90 642.58h0.68V719.80h-0.68zM562.58 626.00h0.68V719.80h-0.68zM563.25 628.83h0.68V719.80h-0.68zM563.93 621.68h0.68V719.80h-0.68zM564.61 620.50h0.68V719.80h-0.68zM565.28 636.12h0.68V719.80h-0.68zM565.96 657.92h0.68V719.80h-0.68zM566.64 649.05h0.68V719.80h-0.68zM567.31 636.25h0.68V719.80h-0.68zM567.99 635.19h0.68V719.80h-0.68zM568.67 633.63h0.68V719.80h-0.68zM569.34 639.39h0.68V719.80h-0.68zM570.02 644.90h0.68V719.80h-0.68zM570.70 669.73h0.68V719.80h-0.68zM571.37 660.26h0.68V719.80h-0.68zM572.05 650.26h0.68V719.80h-0.68zM572.73 648.68h0.68V719.80h-0.68zM573.40 647.08h0.68V719.80h-0.68zM574.08 650.61h0.68V719.80h-0.68zM574.76 659.24h0.68V719.80h-0.68zM575.43 675.88h0.68V719.80h-0.68zM576.11 667.65h0.68V719.80h-0.68zM576.79 660.99h0.68V719.80h-0.68zM577.46 660.92h0.68V719.80h-0.68zM578.14 658.03h0.68V719.80h-0.68zM578.82 661.04h0.68V719.80h-0.68zM579.49 667.01h0.68V719.80h-0.68zM580.17 682.63h0.68V719.80h-0.68zM580.85 676.48h0.68V719.80h-0.68zM581.52 669.53h0.68V719.80h-0.68zM582.20 671.06h0.68V719.80h-0.68zM582.88 671.38h0.68V719.80h-0.68zM583.55 673.44h0.68V719.80h-0.68zM584.23 677.72h0.68V719.80h-0.68zM584.91 687.83h0.68V719.80h-0.68zM585.58 682.72h0.68V719.80h-0.68zM586.26 675.41h0.68V719.80h-0.68z" fill="url(#stripes)"/>
<polyline points="56.70,719.58 57.38,719.56 58.05,719.53 58.73,719.49 59.41,719.45 60.08,719.42 60.76,719.38 61.44,719.34 62.11,719.31 62.79,719.27 63.47,719.24 64.14,719.20 64.82,719.16 65.50,719.13 66.17,719.09 66.85,719.05 67.53,719.02 68.20,718.98 68.88,718.95 69.56,718.92 70.24,718.91 70.91,718.90 71.59,718.90 72.27,718.90 72.94,718.90 73.62,718.90 74.30,718.90 74.97,718.90 75.65,718.90 76.33,718.90 77.00,718.90 77.68,718.90 78.36,718.90 79.03,718.90 79.71,718.90 80.39,718.90 81.06,718.89 81.74,718.87 82.42,718.77 83.09,718.57 83.77,718.24 84.45,717.84 85.12,717.42 85.80,716.99 86.48,716.56 87.15,716.13 87.83,715.68 88.51,715.18 89.18,714.53 89.86,713.65 90.54,712.56 91.21,711.36 91.89,710.12 92.57,708.86 93.24,707.54 93.92,706.04 94.60,704.22 95.28,702.07 95.95,699.72 96.63,697.28 97.31,694.81 97.98,692.24 98.66,689.53 99.34,686.65 100.01,683.67 100.69,680.69 101.37,677.82 102.04,675.12 102.72,672.61 103.40,670.23 104.07,668.00 104.75,666.08 105.43,664.63 106.10,663.62 106.78,662.84 107.46,662.15 108.13,661.50 108.81,660.91 109.49,660.42 110.16,660.01 110.84,659.68 111.52,659.45 112.19,659.43 112.87,659.73 113.55,660.31 114.22,661.03 114.90,661.81 115.58,662.59 116.25,663.35 116.93,664.04 117.61,664.61 118.28,665.06 118.96,665.44 119.64,665.79 120.32,666.14 120.99,666.48 121.67,666.83 122.35,667.17 123.02,667.51 123.70,667.85 124.38,668.19 125.05,668.53 125.73,668.86 126.41,669.20 127.08,669.54 127.76,669.90 128.44,670.29 129.11,670.73 129.79,671.24 130.47,671.78 131.14,672.34 131.82,672.90 132.50,673.46 133.17,674.02 133.85,674.58 134.53,675.14 135.20,675.70 135.88,676.26 136.56,676.82 137.23,677.37 137.91,677.85 138.59,678.19 139.26,678.31 139.94,678.26 140.62,678.12 141.29,677.96 141.97,677.79 142.65,677.62 143.32,677.45 144.00,677.29 144.68,677.12 145.36,676.95 146.03,676.78 146.71,676.62 147.39,676.45 148.06,676.28 148.74,676.10 149.42,675.90 150.09,675.63 150.77,675.30 151.45,674.91 152.12,674.50 152.80,674.09 153.48,673.69 154.15,673.38 154.83,673.26 155.51,673.42 156.18,673.79 156.86,674.26 157.54,674.75 158.21,675.24 158.89,675.70 159.57,676.05 160.24,676.24 160.92,676.26 161.60,676.18 162.27,676.06 162.95,675.94 163.63,675.81 164.30,675.69 164.98,675.55 165.66,675.39 166.33,675.15 167.01,674.81 167.69,674.39 168.36,673.93 169.04,673.46 169.72,672.99 170.40,672.52 171.07,672.05 171.75,671.58 172.43,671.11 173.10,670.64 173.78,670.17 174.46,669.69 175.13,669.20 175.81,668.70 176.49,668.20 177.16,667.70 177.84,667.21 178.52,666.74 179.19,666.33 179.87,666.05 180.55,665.89 181.22,665.81 181.90,665.76 182.58,665.72 183.25,665.68 183.93,665.63 184.61,665.60 185.28,665.57 185.96,665.57 186.64,665.62 187.31,665.70 187.99,665.81 188.67,665.92 189.34,666.02 190.02,666.13 190.70,666.24 191.37,666.35 192.05,666.46 192.73,666.57 193.40,666.68 194.08,666.79 194.76,666.90 195.43,667.03 196.11,667.19 196.79,667.38 197.47,667.60 198.14,667.82 198.82,668.05 199.50,668.28 200.17,668.50 200.85,668.73 201.53,668.96 202.20,669.19 202.88,669.42 203.56,669.64 204.23,669.88 204.91,670.12 205.59,670.39 206.26,670.71 206.94,671.07 207.62,671.45 208.29,671.84 208.97,672.23 209.65,672.61 210.32,673.00 211.00,673.39 211.68,673.75 212.35,674.07 213.03,674.31 213.71,674.50 214.38,674.66 215.06,674.82 215.74,674.98 216.41,675.14 217.09,675.30 217.77,675.46 218.44,675.62 219.12,675.78 219.80,675.94 220.47,676.09 221.15,676.22 221.83,676.29 222.51,676.25 223.18,676.09 223.86,675.87 224.54,675.63 225.21,675.37 225.89,675.12 226.57,674.87 227.24,674.62 227.92,674.36 228.60,674.11 229.27,673.86 229.95,673.60 230.63,673.35 231.30,673.07 231.98,672.74 232.66,672.34 233.33,671.87 234.01,671.38 234.69,670.88 235.36,670.38 236.04,669.87 236.72,669.37 237.39,668.85 238.07,668.28 238.75,667.59 239.42,666.74 240.10,665.77 240.78,664.77 241.45,663.75 242.13,662.73 242.81,661.71 243.48,660.68 244.16,659.63 244.84,658.50 245.51,657.24 246.19,655.86 246.87,654.39 247.55,652.90 248.22,651.39 248.90,649.89 249.58,648.39 250.25,646.90 250.93,645.43 251.61,644.04 252.28,642.74 252.96,641.50 253.64,640.30 254.31,639.10 254.99,637.90 255.67,636.71 256.34,635.52 257.02,634.37 257.70,633.34 258.37,632.50 259.05,631.89 259.73,631.40 260.40,630.97 261.08,630.55 261.76,630.13 262.43,629.71 263.11,629.28 263.79,628.85 264.46,628.39 265.14,627.89 265.82,627.35 266.49,626.80 267.17,626.23 267.85,625.67 268.52,625.11 269.20,624.58 269.88,624.10 270.55,623.66 271.23,623.25 271.91,622.85 272.59,622.45 273.26,622.05 273.94,621.66 274.62,621.26 275.29,620.87 275.97,620.47 276.65,620.07 277.32,619.68 278.00,619.33 278.68,619.13 279.35,619.35 280.03,620.17 280.71,621.50 281.38,623.03 282.06,624.40 282.74,625.21 283.41,625.21 284.09,624.57 284.77,623.66 285.44,622.66 286.12,621.63 286.80,620.54 287.47,619.25 288.15,617.68 288.83,615.85 289.50,613.90 290.18,611.96 290.86,610.20 291.53,608.70 292.21,607.42 292.89,606.25 293.56,605.11 294.24,603.99 294.92,602.91 295.59,601.94 296.27,601.16 296.95,600.56 297.63,600.07 298.30,599.61 298.98,599.16 299.66,598.71 300.33,598.27 301.01,597.82 301.69,597.39 302.36,597.01 303.04,596.81 303.72,596.87 304.39,597.17 305.07,597.63 305.75,598.24 306.42,599.12 307.10,600.39 307.78,602.00 308.45,603.78 309.13,605.63 309.81,607.48 310.48,609.33 311.16,611.19 311.84,613.08 312.51,615.02 313.19,617.01 313.87,619.04 314.54,621.08 315.22,623.12 315.90,625.17 316.57,627.21 317.25,629.25 317.93,631.28 318.60,633.30 319.28,635.27 319.96,637.05 320.63,638.45 321.31,639.42 321.99,640.07 322.67,640.60 323.34,641.11 324.02,641.61 324.70,642.11 325.37,642.62 326.05,643.12 326.73,643.62 327.40,644.12 328.08,644.63 328.76,645.13 329.43,645.63 330.11,646.13 330.79,646.64 331.46,647.14 332.14,647.62 332.82,648.02 333.49,648.22 334.17,648.11 334.85,647.72 335.52,647.19 336.20,646.61 336.88,646.01 337.55,645.42 338.23,644.83 338.91,644.22 339.58,643.58 340.26,642.85 340.94,642.01 341.61,641.10 342.29,640.16 342.97,639.21 343.64,638.26 344.32,637.30 345.00,636.35 345.67,635.36 346.35,634.30 347.03,633.13 347.71,631.86 348.38,630.53 349.06,629.18 349.74,627.84 350.41,626.52 351.09,625.28 351.77,624.18 352.44,623.24 353.12,622.39 353.80,621.58 354.47,620.78 355.15,619.97 355.83,619.14 356.50,618.25 357.18,617.29 357.86,616.30 358.53,615.28 359.21,614.26 359.89,613.24 360.56,612.22 361.24,611.22 361.92,610.24 362.59,609.27 363.27,608.31 363.95,607.36 364.62,606.40 365.30,605.46 365.98,604.57 366.65,603.86 367.33,603.47 368.01,603.43 368.68,603.62 369.36,603.89 370.04,604.19 370.71,604.49 371.39,604.78 372.07,605.07 372.75,605.35 373.42,605.62 374.10,605.87 374.78,606.12 375.45,606.36 376.13,606.61 376.81,606.86 377.48,607.11 378.16,607.40 378.84,607.82 379.51,608.51 380.19,609.54 380.87,610.79 381.54,612.13 382.22,613.50 382.90,614.86 383.57,616.23 384.25,617.58 384.93,618.92 385.60,620.25 386.28,621.58 386.96,622.91 387.63,624.23 388.31,625.56 388.99,626.90 389.66,628.25 390.34,629.61 391.02,630.97 391.69,632.34 392.37,633.70 393.05,635.06 393.72,636.37 394.40,637.62 395.08,638.79 395.75,639.92 396.43,641.02 397.11,642.11 397.79,643.21 398.46,644.31 399.14,645.40 399.82,646.45 400.49,647.40 401.17,648.18 401.85,648.80 402.52,649.32 403.20,649.81 403.88,650.30 404.55,650.78 405.23,651.26 405.91,651.75 406.58,652.23 407.26,652.71 407.94,653.20 408.61,653.68 409.29,654.14 409.97,654.54 410.64,654.80 411.32,654.87 412.00,654.81 412.67,654.69 413.35,654.56 414.03,654.43 414.70,654.30 415.38,654.17 416.06,654.04 416.73,653.90 417.41,653.76 418.09,653.60 418.76,653.37 419.44,653.06 420.12,652.68 420.79,652.28 421.47,651.86 422.15,651.44 422.83,650.97 423.50,650.39 424.18,649.64 424.86,648.75 425.53,647.77 426.21,646.77 426.89,645.77 427.56,644.77 428.24,643.76 428.92,642.77 429.59,641.82 430.27,640.98 430.95,640.30 431.62,639.73 432.30,639.22 432.98,638.71 433.65,638.21 434.33,637.71 435.01,637.21 435.68,636.72 436.36,636.28 437.04,635.92 437.71,635.67 438.39,635.48 439.07,635.33 439.74,635.18 440.42,635.03 441.10,634.88 441.77,634.73 442.45,634.59 443.13,634.44 443.80,634.29 444.48,634.14 445.16,634.01 445.83,633.94 446.51,634.02 447.19,634.30 447.87,634.73 448.54,635.22 449.22,635.72 449.90,636.22 450.57,636.72 451.25,637.23 451.93,637.73 452.60,638.23 453.28,638.74 453.96,639.25 454.63,639.76 455.31,640.27 455.99,640.78 456.66,641.29 457.34,641.80 458.02,642.31 458.69,642.83 459.37,643.39 460.05,643.99 460.72,644.63 461.40,645.30 462.08,645.98 462.75,646.65 463.43,647.33 464.11,648.01 464.78,648.68 465.46,649.36 466.14,650.04 466.81,650.71 467.49,651.37 468.17,652.01 468.84,652.64 469.52,653.25 470.20,653.86 470.87,654.47 471.55,655.09 472.23,655.70 472.90,656.31 473.58,656.92 474.26,657.53 474.94,658.12 475.61,658.69 476.29,659.21 476.97,659.68 477.64,660.12 478.32,660.54 479.00,660.96 479.67,661.38 480.35,661.80 481.03,662.21 481.70,662.56 482.38,662.78 483.06,662.78 483.73,662.58 484.41,662.29 485.09,661.96 485.76,661.62 486.44,661.28 487.12,660.94 487.79,660.60 488.47,660.27 489.15,659.93 489.82,659.64 490.50,659.42 491.18,659.35 491.85,659.41 492.53,659.55 493.21,659.72 493.88,659.89 494.56,660.07 495.24,660.24 495.91,660.41 496.59,660.56 497.27,660.67 497.94,660.70 498.62,660.68 499.30,660.62 499.98,660.56 500.65,660.50 501.33,660.44 502.01,660.38 502.68,660.31 503.36,660.25 504.04,660.19 504.71,660.13 505.39,660.07 506.07,660.01 506.74,659.95 507.42,659.90 508.10,659.86 508.77,659.83 509.45,659.80 510.13,659.77 510.80,659.74 511.48,659.71 512.16,659.68 512.83,659.66 513.51,659.63 514.19,659.60 514.86,659.57 515.54,659.54 516.22,659.51 516.89,659.48 517.57,659.47 518.25,659.51 518.92,659.63 519.60,659.85 520.28,660.12 520.95,660.43 521.63,660.73 522.31,661.04 522.98,661.35 523.66,661.66 524.34,662.00 525.02,662.40 525.69,662.90 526.37,663.50 527.05,664.15 527.72,664.82 528.40,665.49 529.08,666.14 529.75,666.72 530.43,667.16 531.11,667.45 531.78,667.65 532.46,667.81 533.14,667.92 533.81,667.92 534.49,667.76 535.17,667.44 535.84,667.03 536.52,666.58 537.20,666.12 537.87,665.59 538.55,664.92 539.23,664.05 539.90,663.02 540.58,661.92 541.26,660.81 541.93,659.69 542.61,658.57 543.29,657.44 543.96,656.31 544.64,655.17 545.32,654.02 545.99,652.87 546.67,651.70 547.35,650.46 548.02,649.12 548.70,647.65 549.38,646.13 550.06,644.57 550.73,643.02 551.41,641.47 552.09,639.97 552.76,638.51 553.44,637.11 554.12,635.73 554.79,634.36 555.47,633.03 556.15,631.80 556.82,630.82 557.50,630.18 558.18,629.79 558.85,629.50 559.53,629.29 560.21,629.20 560.88,629.32 561.56,629.67 562.24,630.17 562.91,630.71 563.59,631.28 564.27,631.88 564.94,632.56 565.62,633.36 566.30,634.29 566.97,635.29 567.65,636.31 568.33,637.35 569.00,638.49 569.68,639.86 570.36,641.55 571.03,643.46 571.71,645.48 572.39,647.52 573.06,649.52 573.74,651.43 574.42,653.16 575.10,654.69 575.77,656.10 576.45,657.45 577.13,658.79 577.80,660.13 578.48,661.47 579.16,662.82 579.83,664.17 580.51,665.52 581.19,666.88 581.86,668.26 582.54,669.70 583.22,671.22 583.89,672.80 584.57,674.40 585.25,675.94 585.92,677.26 586.60,678.17" fill="none" stroke="#9e7637" stroke-width="1.7" stroke-linejoin="round" stroke-linecap="butt"/>
<text x="54.30" y="734.70" font-size="10.8" fill="#6e6e6e" text-anchor="end" transform="rotate(-45 54.30 734.70)">Jan 22, 2…</text>
<text x="72.57" y="734.70" font-size="10.8" fill="#6e6e6e" text-anchor="end" transform="rotate(-45 72.57 734.70)">Feb 18, 2020</text>
<text x="90.84" y="734.70" font-size="10.8" fill="#6e6e6e" text-anchor="end" transform="rotate(-45 90.84 734.70)">Mar 16, 2020</text>
<text x="109.12" y="734.70" font-size="10.8" fill="#6e6e6e" text-anchor="end" transform="rotate(-45 109.12 734.70)">Apr 12, 2020</text>
<text x="127.39" y="734.70" font-size="10.8" fill="#6e6e6e" text-anchor="end" transform="rotate(-45 127.39 734.70)">May 09, 2020</text>
<text x="145.66" y="734.70" font-size="10.8" fill="#6e6e6e" text-anchor="end" transform="rotate(-45 145.66 734.70)">Jun 05, 2020</text>
<text x="163.93" y="734.70" font-size="10.8" fill="#6e6e6e" text-anchor="end" transform="rotate(-45 163.93 734.70)">Jul 02, 2020</text>
<text x="182.21" y="734.70" font-size="10.8" fill="#6e6e6e" text-anchor="end" transform="rotate(-45 182.21 734.70)">Jul 29, 2020</text>
<text x="200.48" y="734.70" font-size="10.8" fill="#6e6e6e" text-anchor="end" transform="rotate(-45 200.48 734.70)">Aug 25, 2020</text>
<text x="218.75" y="734.70" font-size="10.8" fill="#6e6e6e" text-anchor="end" transform="rotate(-45 218.75 734.70)">Sep 21, 2020</text>
<text x="237.02" y="734.70" font-size="10.8" fill="#6e6e6e" text-anchor="end" transform="rotate(-45 237.02 734.70)">Oct 18, 2020</text>
<text x="255.30" y="734.70" font-size="10.8" fill="#6e6e6e" text-anchor="end" transform="rotate(-45 255.30 734.70)">Nov 14, 2020</text>
<text x="273.57" y="734.70" font-size="10.8" fill="#6e6e6e" text-anchor="end" transform="rotate(-45 273.57 734.70)">Dec 11, 2020</text>
<text x="291.84" y="734.70" font-size="10.8" fill="#6e6e6e" text-anchor="end" transform="rotate(-45 291.84 734.70)">Jan 07, 2021</text>
<text x="310.11" y="734.70" font-size="10.8" fill="#6e6e6e" text-anchor="end" transform="rotate(-45 310.11 734.70)">Feb 03, 2021</text>
<text x="328.39" y="734.70" font-size="10.8" fill="#6e6e6e" text-anchor="end" transform="rotate(-45 328.39 734.70)">Mar 02, 2021</text>
<text x="346.66" y="734.70" font-size="10.8" fill="#6e6e6e" text-anchor="end" transform="rotate(-45 346.66 734.70)">Mar 29, 2021</text>
<text x="364.93" y="734.70" font-size="10.8" fill="#6e6e6e" text-anchor="end" transform="rotate(-45 364.93 734.70)">Apr 25, 2021</text>
<text x="383.20" y="734.70" font-size="10.8" fill="#6e6e6e" text-anchor="end" transform="rotate(-45 383.20 734.70)">May 22, 2021</text>
<text x="401.48" y="734.70" font-size="10.8" fill="#6e6e6e" text-anchor="end" transform="rotate(-45 401.48 734.70)">Jun 18, 2021</text>
<text x="419.75" y="734.70" font-size="10.8" fill="#6e6e6e" text-anchor="end" transform="rotate(-45 419.75 734.70)">Jul 15, 2021</text>
<text x="438.02" y="734.70" font-size="10.8" fill="#6e6e6e" text-anchor="end" transform="rotate(-45 438.02 734.70)">Aug 11, 2021</text>
<text x="456.29" y="734.70" font-size="10.8" fill="#6e6e6e" text-anchor="end" transform="rotate(-45 456.29 734.70)">Sep 07, 2021</text>
<text x="474.57" y="734.70" font-size="10.8" fill="#6e6e6e" text-anchor="end" transform="rotate(-45 474.57 734.70)">Oct 04, 2021</text>
<text x="492.84" y="734.70" font-size="10.8" fill="#6e6e6e" text-anchor="end" transform="rotate(-45 492.84 734.70)">Oct 31, 2021</text>
<text x="511.11" y="734.70" font-size="10.8" fill="#6e6e6e" text-anchor="end" transform="rotate(-45 511.11 734.70)">Nov 27, 2021</text>
<text x="529.38" y="734.70" font-size="10.8" fill="#6e6e6e" text-anchor="end" transform="rotate(-45 529.38 734.70)">Dec 24, 2021</text>
<text x="547.66" y="734.70" font-size="10.8" fill="#6e6e6e" text-anchor="end" transform="rotate(-45 547.66 734.70)">Jan 20, 2022</text>
<text x="565.93" y="734.70" font-size="10.8" fill="#6e6e6e" text-anchor="end" transform="rotate(-45 565.93 734.70)">Feb 16, 2022</text>
<text x="584.20" y="734.70" font-size="10.8" fill="#6e6e6e" text-anchor="end" transform="rotate(-45 584.20 734.70)">Mar 15, 2022</text>
<rect x="215" y="806.0" width="15" height="2" fill="#9e7637"/>
<circle cx="222.5" cy="807.2" r="3.8" fill="#b07c24"/>
<text x="235.00" y="811.00" font-size="11.60" fill="#333" text-anchor="start" font-weight="normal" stroke="#333" stroke-width="0.45" letter-spacing="0.12">7-day moving average</text>
<rect x="372.1" y="805.1" width="11.8" height="11.4" rx="2" fill="#1c6ee0"/>
<path d="M374.3 811.5 L376.7 814.0 L381.1 807.7" fill="none" stroke="#f4ffff" stroke-width="1.7" stroke-linecap="round" stroke-linejoin="round"/>
</svg>
</body></html>
